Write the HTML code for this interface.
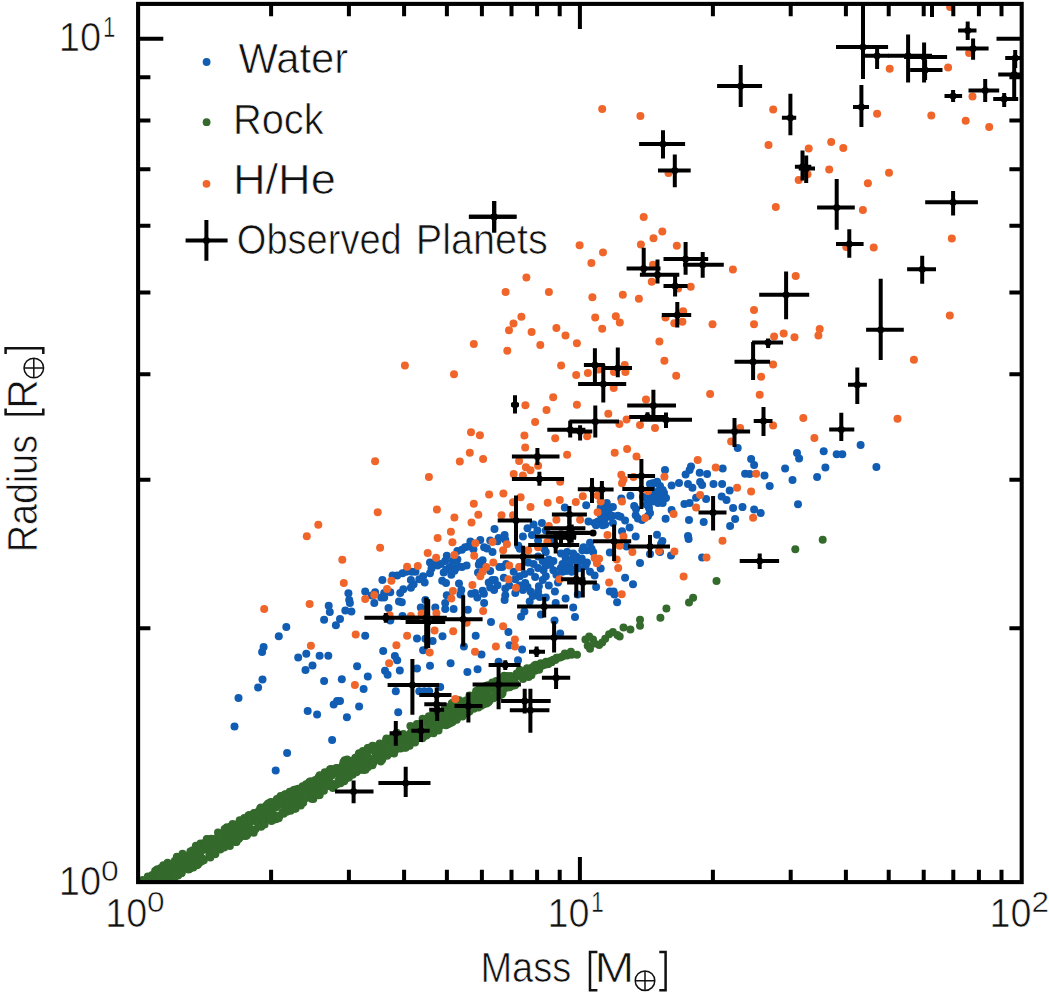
<!DOCTYPE html>
<html><head><title>Mass-Radius</title><meta charset="utf-8"><style>html,body{margin:0;padding:0;background:#fff}svg{display:block}</style></head><body><svg width="1049" height="995" viewBox="0 0 1049 995"><rect width="1049" height="995" fill="#fff"/><defs><clipPath id="cp"><rect x="138.1" y="3.9" width="883.6" height="878.2"/></clipPath></defs><g clip-path="url(#cp)"><g fill="#115db3"><circle cx="860.6" cy="445.0" r="4.0"/><circle cx="823.7" cy="451.3" r="4.0"/><circle cx="836.7" cy="454.3" r="4.0"/><circle cx="842.3" cy="454.3" r="4.0"/><circle cx="797.0" cy="453.0" r="4.0"/><circle cx="799.1" cy="458.5" r="4.0"/><circle cx="825.4" cy="467.6" r="4.0"/><circle cx="876.4" cy="467.1" r="4.0"/><circle cx="817.1" cy="477.1" r="4.0"/><circle cx="792.5" cy="479.9" r="4.0"/><circle cx="798.0" cy="504.3" r="4.0"/><circle cx="737.7" cy="448.0" r="4.0"/><circle cx="751.1" cy="459.0" r="4.0"/><circle cx="754.1" cy="465.0" r="4.0"/><circle cx="785.1" cy="468.6" r="4.0"/><circle cx="764.5" cy="475.5" r="4.0"/><circle cx="769.7" cy="486.1" r="4.0"/><circle cx="745.1" cy="473.7" r="4.0"/><circle cx="749.7" cy="474.1" r="4.0"/><circle cx="722.7" cy="468.6" r="4.0"/><circle cx="691.0" cy="466.4" r="4.0"/><circle cx="689.6" cy="470.0" r="4.0"/><circle cx="685.6" cy="474.5" r="4.0"/><circle cx="699.7" cy="472.7" r="4.0"/><circle cx="707.1" cy="474.1" r="4.0"/><circle cx="665.0" cy="470.0" r="4.0"/><circle cx="679.0" cy="483.1" r="4.0"/><circle cx="671.6" cy="485.5" r="4.0"/><circle cx="688.0" cy="484.1" r="4.0"/><circle cx="692.4" cy="487.7" r="4.0"/><circle cx="700.1" cy="482.1" r="4.0"/><circle cx="702.1" cy="485.1" r="4.0"/><circle cx="713.5" cy="484.1" r="4.0"/><circle cx="722.1" cy="484.1" r="4.0"/><circle cx="729.7" cy="490.5" r="4.0"/><circle cx="721.7" cy="496.5" r="4.0"/><circle cx="726.5" cy="500.1" r="4.0"/><circle cx="706.1" cy="499.1" r="4.0"/><circle cx="696.1" cy="497.7" r="4.0"/><circle cx="684.4" cy="504.1" r="4.0"/><circle cx="689.6" cy="503.1" r="4.0"/><circle cx="733.1" cy="508.1" r="4.0"/><circle cx="742.5" cy="507.1" r="4.0"/><circle cx="754.1" cy="509.5" r="4.0"/><circle cx="760.7" cy="513.1" r="4.0"/><circle cx="735.1" cy="519.1" r="4.0"/><circle cx="730.1" cy="526.1" r="4.0"/><circle cx="703.7" cy="522.1" r="4.0"/><circle cx="689.0" cy="520.1" r="4.0"/><circle cx="665.6" cy="518.7" r="4.0"/><circle cx="671.6" cy="510.1" r="4.0"/><circle cx="688.0" cy="536.1" r="4.0"/><circle cx="688.6" cy="539.1" r="4.0"/><circle cx="657.0" cy="534.7" r="4.0"/><circle cx="662.4" cy="541.1" r="4.0"/><circle cx="650.0" cy="484.1" r="4.0"/><circle cx="655.0" cy="483.1" r="4.0"/><circle cx="660.0" cy="486.1" r="4.0"/><circle cx="652.0" cy="490.1" r="4.0"/><circle cx="659.0" cy="491.1" r="4.0"/><circle cx="664.0" cy="493.1" r="4.0"/><circle cx="654.0" cy="497.1" r="4.0"/><circle cx="660.0" cy="498.1" r="4.0"/><circle cx="666.0" cy="498.1" r="4.0"/><circle cx="648.0" cy="502.1" r="4.0"/><circle cx="658.0" cy="503.1" r="4.0"/><circle cx="649.0" cy="508.1" r="4.0"/><circle cx="650.0" cy="513.1" r="4.0"/><circle cx="648.0" cy="516.1" r="4.0"/><circle cx="642.0" cy="520.1" r="4.0"/><circle cx="671.0" cy="555.6" r="4.0"/><circle cx="650.0" cy="554.0" r="4.0"/><circle cx="661.0" cy="544.0" r="4.0"/><circle cx="702.1" cy="557.6" r="4.0"/><circle cx="640.0" cy="563.0" r="4.0"/><circle cx="660.0" cy="552.0" r="4.0"/><circle cx="564.8" cy="507.6" r="4.0"/><circle cx="586.2" cy="505.3" r="4.0"/><circle cx="606.8" cy="503.0" r="4.0"/><circle cx="612.9" cy="506.9" r="4.0"/><circle cx="600.7" cy="507.6" r="4.0"/><circle cx="630.4" cy="495.7" r="4.0"/><circle cx="621.3" cy="498.5" r="4.0"/><circle cx="634.2" cy="506.1" r="4.0"/><circle cx="652.5" cy="483.2" r="4.0"/><circle cx="657.1" cy="481.7" r="4.0"/><circle cx="646.4" cy="497.7" r="4.0"/><circle cx="652.5" cy="501.5" r="4.0"/><circle cx="658.6" cy="495.4" r="4.0"/><circle cx="646.4" cy="504.6" r="4.0"/><circle cx="662.7" cy="490.1" r="4.0"/><circle cx="652.8" cy="494.7" r="4.0"/><circle cx="662.7" cy="503.0" r="4.0"/><circle cx="642.9" cy="496.9" r="4.0"/><circle cx="606.8" cy="506.1" r="4.0"/><circle cx="605.2" cy="513.7" r="4.0"/><circle cx="609.8" cy="516.8" r="4.0"/><circle cx="635.7" cy="515.3" r="4.0"/><circle cx="620.5" cy="516.8" r="4.0"/><circle cx="625.1" cy="520.6" r="4.0"/><circle cx="629.6" cy="527.5" r="4.0"/><circle cx="600.7" cy="521.4" r="4.0"/><circle cx="594.6" cy="522.9" r="4.0"/><circle cx="605.2" cy="524.4" r="4.0"/><circle cx="588.5" cy="521.4" r="4.0"/><circle cx="541.9" cy="522.9" r="4.0"/><circle cx="527.5" cy="528.2" r="4.0"/><circle cx="537.4" cy="530.5" r="4.0"/><circle cx="504.6" cy="535.1" r="4.0"/><circle cx="522.9" cy="536.6" r="4.0"/><circle cx="505.3" cy="539.7" r="4.0"/><circle cx="635.7" cy="536.6" r="4.0"/><circle cx="622.0" cy="531.3" r="4.0"/><circle cx="590.0" cy="542.7" r="4.0"/><circle cx="591.5" cy="548.8" r="4.0"/><circle cx="586.9" cy="550.3" r="4.0"/><circle cx="626.6" cy="546.5" r="4.0"/><circle cx="609.8" cy="552.6" r="4.0"/><circle cx="519.8" cy="548.8" r="4.0"/><circle cx="538.1" cy="556.4" r="4.0"/><circle cx="545.8" cy="551.9" r="4.0"/><circle cx="548.8" cy="559.5" r="4.0"/><circle cx="542.7" cy="561.0" r="4.0"/><circle cx="553.4" cy="561.0" r="4.0"/><circle cx="528.2" cy="562.5" r="4.0"/><circle cx="561.0" cy="553.4" r="4.0"/><circle cx="567.1" cy="551.9" r="4.0"/><circle cx="573.2" cy="553.4" r="4.0"/><circle cx="565.6" cy="558.0" r="4.0"/><circle cx="571.7" cy="559.5" r="4.0"/><circle cx="576.3" cy="556.4" r="4.0"/><circle cx="582.4" cy="550.3" r="4.0"/><circle cx="580.8" cy="561.0" r="4.0"/><circle cx="586.9" cy="562.5" r="4.0"/><circle cx="562.5" cy="564.1" r="4.0"/><circle cx="567.1" cy="567.1" r="4.0"/><circle cx="571.7" cy="571.7" r="4.0"/><circle cx="562.5" cy="571.7" r="4.0"/><circle cx="553.4" cy="570.2" r="4.0"/><circle cx="556.4" cy="574.7" r="4.0"/><circle cx="543.5" cy="570.2" r="4.0"/><circle cx="600.7" cy="568.6" r="4.0"/><circle cx="590.0" cy="571.7" r="4.0"/><circle cx="594.6" cy="575.5" r="4.0"/><circle cx="625.1" cy="577.8" r="4.0"/><circle cx="633.0" cy="584.2" r="4.0"/><circle cx="596.1" cy="586.9" r="4.0"/><circle cx="609.8" cy="591.5" r="4.0"/><circle cx="614.4" cy="594.6" r="4.0"/><circle cx="565.6" cy="598.4" r="4.0"/><circle cx="542.7" cy="580.1" r="4.0"/><circle cx="538.9" cy="586.2" r="4.0"/><circle cx="524.4" cy="574.0" r="4.0"/><circle cx="519.8" cy="576.3" r="4.0"/><circle cx="515.3" cy="579.3" r="4.0"/><circle cx="503.8" cy="577.8" r="4.0"/><circle cx="525.2" cy="583.1" r="4.0"/><circle cx="527.5" cy="586.9" r="4.0"/><circle cx="522.9" cy="590.0" r="4.0"/><circle cx="505.3" cy="588.5" r="4.0"/><circle cx="505.3" cy="595.3" r="4.0"/><circle cx="532.8" cy="596.1" r="4.0"/><circle cx="539.7" cy="596.9" r="4.0"/><circle cx="502.3" cy="567.1" r="4.0"/><circle cx="612.9" cy="522.9" r="4.0"/><circle cx="577.8" cy="594.6" r="4.0"/><circle cx="494.5" cy="529.0" r="4.0"/><circle cx="480.3" cy="540.0" r="4.0"/><circle cx="470.4" cy="541.5" r="4.0"/><circle cx="490.2" cy="540.4" r="4.0"/><circle cx="498.6" cy="538.1" r="4.0"/><circle cx="465.1" cy="547.3" r="4.0"/><circle cx="457.4" cy="551.1" r="4.0"/><circle cx="484.1" cy="547.3" r="4.0"/><circle cx="492.5" cy="551.9" r="4.0"/><circle cx="446.8" cy="555.7" r="4.0"/><circle cx="445.2" cy="561.0" r="4.0"/><circle cx="440.7" cy="564.1" r="4.0"/><circle cx="430.0" cy="562.5" r="4.0"/><circle cx="431.5" cy="568.6" r="4.0"/><circle cx="430.0" cy="573.2" r="4.0"/><circle cx="437.6" cy="565.6" r="4.0"/><circle cx="452.9" cy="561.0" r="4.0"/><circle cx="457.4" cy="559.5" r="4.0"/><circle cx="449.8" cy="567.1" r="4.0"/><circle cx="455.9" cy="567.9" r="4.0"/><circle cx="462.0" cy="567.1" r="4.0"/><circle cx="466.6" cy="565.6" r="4.0"/><circle cx="443.7" cy="572.4" r="4.0"/><circle cx="451.3" cy="574.7" r="4.0"/><circle cx="482.6" cy="560.2" r="4.0"/><circle cx="478.8" cy="564.8" r="4.0"/><circle cx="490.2" cy="570.9" r="4.0"/><circle cx="478.0" cy="572.4" r="4.0"/><circle cx="494.8" cy="580.1" r="4.0"/><circle cx="488.7" cy="582.4" r="4.0"/><circle cx="494.1" cy="590.0" r="4.0"/><circle cx="482.6" cy="590.8" r="4.0"/><circle cx="475.0" cy="593.0" r="4.0"/><circle cx="477.3" cy="597.6" r="4.0"/><circle cx="459.0" cy="583.6" r="4.0"/><circle cx="461.3" cy="590.0" r="4.0"/><circle cx="442.2" cy="580.8" r="4.0"/><circle cx="446.0" cy="583.1" r="4.0"/><circle cx="446.8" cy="595.3" r="4.0"/><circle cx="423.1" cy="576.3" r="4.0"/><circle cx="424.7" cy="582.4" r="4.0"/><circle cx="419.3" cy="579.3" r="4.0"/><circle cx="411.7" cy="571.7" r="4.0"/><circle cx="415.5" cy="571.7" r="4.0"/><circle cx="402.5" cy="573.2" r="4.0"/><circle cx="397.2" cy="575.5" r="4.0"/><circle cx="392.6" cy="575.5" r="4.0"/><circle cx="382.4" cy="580.1" r="4.0"/><circle cx="410.9" cy="580.1" r="4.0"/><circle cx="410.9" cy="587.7" r="4.0"/><circle cx="403.3" cy="589.2" r="4.0"/><circle cx="400.2" cy="593.0" r="4.0"/><circle cx="365.2" cy="591.5" r="4.0"/><circle cx="348.4" cy="593.3" r="4.0"/><circle cx="384.2" cy="593.0" r="4.0"/><circle cx="390.3" cy="592.3" r="4.0"/><circle cx="381.2" cy="597.6" r="4.0"/><circle cx="375.1" cy="592.3" r="4.0"/><circle cx="349.2" cy="599.9" r="4.0"/><circle cx="499.4" cy="567.1" r="4.0"/><circle cx="384.2" cy="597.6" r="4.0"/><circle cx="374.3" cy="603.0" r="4.0"/><circle cx="401.8" cy="602.2" r="4.0"/><circle cx="349.9" cy="603.0" r="4.0"/><circle cx="345.3" cy="610.6" r="4.0"/><circle cx="351.4" cy="611.4" r="4.0"/><circle cx="340.0" cy="619.0" r="4.0"/><circle cx="388.5" cy="608.0" r="4.0"/><circle cx="425.4" cy="599.9" r="4.0"/><circle cx="420.8" cy="607.5" r="4.0"/><circle cx="435.3" cy="607.5" r="4.0"/><circle cx="445.2" cy="603.0" r="4.0"/><circle cx="445.2" cy="609.1" r="4.0"/><circle cx="453.6" cy="609.1" r="4.0"/><circle cx="460.5" cy="594.6" r="4.0"/><circle cx="467.8" cy="609.8" r="4.0"/><circle cx="484.1" cy="603.0" r="4.0"/><circle cx="491.0" cy="622.0" r="4.0"/><circle cx="402.5" cy="615.9" r="4.0"/><circle cx="390.3" cy="620.5" r="4.0"/><circle cx="365.2" cy="635.8" r="4.0"/><circle cx="417.0" cy="638.5" r="4.0"/><circle cx="432.6" cy="641.1" r="4.0"/><circle cx="425.4" cy="638.8" r="4.0"/><circle cx="442.5" cy="636.2" r="4.0"/><circle cx="475.7" cy="635.8" r="4.0"/><circle cx="463.9" cy="646.4" r="4.0"/><circle cx="423.1" cy="650.2" r="4.0"/><circle cx="481.5" cy="654.4" r="4.0"/><circle cx="383.2" cy="651.0" r="4.0"/><circle cx="394.9" cy="655.9" r="4.0"/><circle cx="397.2" cy="660.2" r="4.0"/><circle cx="357.1" cy="666.3" r="4.0"/><circle cx="417.0" cy="668.6" r="4.0"/><circle cx="430.0" cy="665.8" r="4.0"/><circle cx="450.6" cy="663.2" r="4.0"/><circle cx="477.6" cy="669.3" r="4.0"/><circle cx="467.4" cy="671.9" r="4.0"/><circle cx="399.8" cy="670.4" r="4.0"/><circle cx="385.0" cy="670.8" r="4.0"/><circle cx="387.6" cy="674.7" r="4.0"/><circle cx="367.8" cy="676.6" r="4.0"/><circle cx="341.8" cy="679.2" r="4.0"/><circle cx="440.2" cy="686.9" r="4.0"/><circle cx="363.6" cy="689.1" r="4.0"/><circle cx="498.6" cy="661.7" r="4.0"/><circle cx="504.6" cy="599.9" r="4.0"/><circle cx="529.7" cy="601.4" r="4.0"/><circle cx="555.7" cy="603.0" r="4.0"/><circle cx="573.2" cy="607.5" r="4.0"/><circle cx="575.0" cy="617.0" r="4.0"/><circle cx="524.4" cy="611.4" r="4.0"/><circle cx="521.0" cy="616.7" r="4.0"/><circle cx="540.9" cy="614.4" r="4.0"/><circle cx="554.5" cy="620.5" r="4.0"/><circle cx="560.2" cy="633.5" r="4.0"/><circle cx="508.4" cy="631.9" r="4.0"/><circle cx="509.5" cy="645.2" r="4.0"/><circle cx="522.1" cy="649.5" r="4.0"/><circle cx="518.0" cy="660.2" r="4.0"/><circle cx="617.1" cy="602.2" r="4.0"/><circle cx="613.6" cy="591.5" r="4.0"/><circle cx="359.1" cy="706.5" r="4.0"/><circle cx="346.9" cy="717.2" r="4.0"/><circle cx="395.8" cy="691.2" r="4.0"/><circle cx="398.2" cy="712.2" r="4.0"/><circle cx="340.0" cy="701.1" r="4.0"/><circle cx="419.3" cy="691.2" r="4.0"/><circle cx="424.3" cy="691.2" r="4.0"/><circle cx="429.2" cy="691.2" r="4.0"/><circle cx="328.7" cy="605.8" r="4.0"/><circle cx="329.8" cy="611.9" r="4.0"/><circle cx="324.1" cy="619.8" r="4.0"/><circle cx="335.9" cy="625.3" r="4.0"/><circle cx="286.3" cy="627.1" r="4.0"/><circle cx="278.8" cy="636.3" r="4.0"/><circle cx="263.6" cy="646.9" r="4.0"/><circle cx="262.1" cy="652.0" r="4.0"/><circle cx="306.3" cy="653.8" r="4.0"/><circle cx="298.2" cy="657.6" r="4.0"/><circle cx="319.6" cy="655.8" r="4.0"/><circle cx="328.3" cy="655.8" r="4.0"/><circle cx="312.5" cy="665.6" r="4.0"/><circle cx="305.5" cy="670.0" r="4.0"/><circle cx="262.5" cy="679.6" r="4.0"/><circle cx="258.1" cy="687.4" r="4.0"/><circle cx="324.1" cy="681.0" r="4.0"/><circle cx="238.5" cy="698.0" r="4.0"/><circle cx="337.1" cy="701.0" r="4.0"/><circle cx="333.7" cy="704.5" r="4.0"/><circle cx="307.7" cy="711.1" r="4.0"/><circle cx="317.1" cy="714.5" r="4.0"/><circle cx="234.5" cy="726.5" r="4.0"/><circle cx="332.1" cy="740.1" r="4.0"/><circle cx="287.1" cy="753.1" r="4.0"/><circle cx="275.7" cy="770.5" r="4.0"/><circle cx="371.7" cy="595.4" r="4.0"/><circle cx="399.0" cy="601.6" r="4.0"/><circle cx="600.8" cy="514.8" r="4.0"/><circle cx="604.6" cy="518.6" r="4.0"/><circle cx="608.4" cy="511.9" r="4.0"/><circle cx="612.2" cy="515.7" r="4.0"/><circle cx="597.9" cy="521.5" r="4.0"/><circle cx="602.7" cy="525.3" r="4.0"/><circle cx="606.5" cy="509.1" r="4.0"/><circle cx="596.0" cy="525.3" r="4.0"/><circle cx="617.9" cy="515.7" r="4.0"/><circle cx="636.0" cy="509.1" r="4.0"/><circle cx="637.9" cy="518.6" r="4.0"/><circle cx="569.3" cy="564.4" r="4.0"/><circle cx="576.9" cy="562.4" r="4.0"/><circle cx="581.7" cy="558.6" r="4.0"/><circle cx="560.7" cy="568.2" r="4.0"/><circle cx="566.4" cy="571.0" r="4.0"/><circle cx="572.2" cy="569.1" r="4.0"/><circle cx="578.8" cy="568.2" r="4.0"/><circle cx="585.5" cy="566.3" r="4.0"/><circle cx="583.6" cy="547.2" r="4.0"/><circle cx="593.1" cy="552.0" r="4.0"/><circle cx="532.0" cy="535.1" r="4.0"/><circle cx="538.1" cy="540.4" r="4.0"/><circle cx="544.2" cy="548.8" r="4.0"/><circle cx="518.3" cy="545.8" r="4.0"/><circle cx="550.3" cy="539.7" r="4.0"/><circle cx="545.8" cy="530.5" r="4.0"/><circle cx="533.6" cy="524.4" r="4.0"/><circle cx="533.6" cy="564.1" r="4.0"/><circle cx="538.1" cy="567.9" r="4.0"/><circle cx="530.5" cy="571.7" r="4.0"/><circle cx="545.8" cy="565.6" r="4.0"/><circle cx="550.3" cy="564.8" r="4.0"/><circle cx="535.1" cy="577.0" r="4.0"/><circle cx="545.8" cy="576.3" r="4.0"/><circle cx="548.8" cy="585.4" r="4.0"/><circle cx="530.5" cy="591.5" r="4.0"/><circle cx="515.3" cy="593.0" r="4.0"/><circle cx="509.2" cy="585.4" r="4.0"/><circle cx="519.8" cy="567.1" r="4.0"/><circle cx="513.7" cy="571.7" r="4.0"/><circle cx="506.1" cy="564.1" r="4.0"/><circle cx="558.0" cy="582.4" r="4.0"/><circle cx="554.9" cy="591.5" r="4.0"/><circle cx="545.8" cy="597.6" r="4.0"/><circle cx="519.8" cy="585.4" r="4.0"/><circle cx="538.1" cy="591.5" r="4.0"/><circle cx="461.9" cy="549.7" r="4.0"/><circle cx="468.2" cy="546.5" r="4.0"/><circle cx="473.4" cy="549.2" r="4.0"/><circle cx="487.0" cy="548.6" r="4.0"/><circle cx="497.5" cy="541.3" r="4.0"/><circle cx="435.7" cy="562.3" r="4.0"/><circle cx="446.1" cy="569.6" r="4.0"/><circle cx="458.7" cy="566.5" r="4.0"/><circle cx="454.5" cy="570.7" r="4.0"/><circle cx="406.3" cy="571.7" r="4.0"/><circle cx="483.9" cy="567.5" r="4.0"/><circle cx="479.7" cy="562.3" r="4.0"/><circle cx="492.3" cy="580.1" r="4.0"/><circle cx="497.5" cy="585.3" r="4.0"/><circle cx="490.2" cy="587.4" r="4.0"/><circle cx="483.9" cy="593.7" r="4.0"/><circle cx="413.6" cy="584.3" r="4.0"/><circle cx="471.3" cy="593.7" r="4.0"/></g><g fill="#346a2c"><circle cx="138.5" cy="881.1" r="4.0"/><circle cx="142.6" cy="880.0" r="4.0"/><circle cx="144.5" cy="882.9" r="4.0"/><circle cx="147.2" cy="880.6" r="4.0"/><circle cx="147.8" cy="876.4" r="4.0"/><circle cx="148.5" cy="878.6" r="4.0"/><circle cx="149.3" cy="882.4" r="4.0"/><circle cx="150.7" cy="881.0" r="4.0"/><circle cx="152.2" cy="874.9" r="4.0"/><circle cx="151.8" cy="876.4" r="4.0"/><circle cx="152.2" cy="881.5" r="4.0"/><circle cx="153.0" cy="876.5" r="4.0"/><circle cx="152.8" cy="879.6" r="4.0"/><circle cx="153.6" cy="882.4" r="4.0"/><circle cx="154.5" cy="883.0" r="4.0"/><circle cx="155.1" cy="871.0" r="4.0"/><circle cx="156.0" cy="877.5" r="4.0"/><circle cx="156.1" cy="882.2" r="4.0"/><circle cx="156.5" cy="870.0" r="4.0"/><circle cx="157.0" cy="871.8" r="4.0"/><circle cx="157.5" cy="869.2" r="4.0"/><circle cx="157.6" cy="871.1" r="4.0"/><circle cx="158.1" cy="875.3" r="4.0"/><circle cx="159.4" cy="870.3" r="4.0"/><circle cx="159.5" cy="874.2" r="4.0"/><circle cx="160.0" cy="869.3" r="4.0"/><circle cx="160.9" cy="876.4" r="4.0"/><circle cx="160.9" cy="868.1" r="4.0"/><circle cx="161.5" cy="871.3" r="4.0"/><circle cx="162.4" cy="868.9" r="4.0"/><circle cx="162.9" cy="868.1" r="4.0"/><circle cx="163.3" cy="865.3" r="4.0"/><circle cx="164.5" cy="878.9" r="4.0"/><circle cx="164.3" cy="871.7" r="4.0"/><circle cx="164.6" cy="880.0" r="4.0"/><circle cx="165.3" cy="879.9" r="4.0"/><circle cx="165.5" cy="868.0" r="4.0"/><circle cx="166.9" cy="879.8" r="4.0"/><circle cx="167.2" cy="878.1" r="4.0"/><circle cx="167.0" cy="873.2" r="4.0"/><circle cx="167.6" cy="862.7" r="4.0"/><circle cx="167.6" cy="867.7" r="4.0"/><circle cx="168.3" cy="876.2" r="4.0"/><circle cx="169.4" cy="870.8" r="4.0"/><circle cx="169.7" cy="881.9" r="4.0"/><circle cx="170.2" cy="868.6" r="4.0"/><circle cx="169.8" cy="865.4" r="4.0"/><circle cx="170.2" cy="864.7" r="4.0"/><circle cx="171.0" cy="879.1" r="4.0"/><circle cx="171.6" cy="870.0" r="4.0"/><circle cx="171.9" cy="876.5" r="4.0"/><circle cx="171.7" cy="873.3" r="4.0"/><circle cx="172.9" cy="875.7" r="4.0"/><circle cx="173.2" cy="869.0" r="4.0"/><circle cx="173.0" cy="875.3" r="4.0"/><circle cx="173.5" cy="875.3" r="4.0"/><circle cx="174.6" cy="866.6" r="4.0"/><circle cx="174.4" cy="877.9" r="4.0"/><circle cx="175.1" cy="861.4" r="4.0"/><circle cx="174.9" cy="860.7" r="4.0"/><circle cx="176.1" cy="874.3" r="4.0"/><circle cx="175.7" cy="874.4" r="4.0"/><circle cx="177.0" cy="870.6" r="4.0"/><circle cx="176.8" cy="868.1" r="4.0"/><circle cx="176.9" cy="856.7" r="4.0"/><circle cx="178.2" cy="869.8" r="4.0"/><circle cx="178.1" cy="875.5" r="4.0"/><circle cx="178.4" cy="874.0" r="4.0"/><circle cx="179.2" cy="859.8" r="4.0"/><circle cx="179.1" cy="861.3" r="4.0"/><circle cx="179.4" cy="867.2" r="4.0"/><circle cx="179.9" cy="863.5" r="4.0"/><circle cx="180.1" cy="873.6" r="4.0"/><circle cx="180.8" cy="863.8" r="4.0"/><circle cx="181.4" cy="873.0" r="4.0"/><circle cx="181.6" cy="873.0" r="4.0"/><circle cx="182.1" cy="864.7" r="4.0"/><circle cx="182.5" cy="853.7" r="4.0"/><circle cx="182.8" cy="856.9" r="4.0"/><circle cx="182.8" cy="869.6" r="4.0"/><circle cx="183.4" cy="862.5" r="4.0"/><circle cx="184.3" cy="864.0" r="4.0"/><circle cx="184.3" cy="863.0" r="4.0"/><circle cx="185.0" cy="868.3" r="4.0"/><circle cx="184.9" cy="863.4" r="4.0"/><circle cx="185.4" cy="857.2" r="4.0"/><circle cx="186.4" cy="861.8" r="4.0"/><circle cx="186.6" cy="866.8" r="4.0"/><circle cx="187.3" cy="860.0" r="4.0"/><circle cx="187.4" cy="861.0" r="4.0"/><circle cx="187.7" cy="864.7" r="4.0"/><circle cx="188.1" cy="861.1" r="4.0"/><circle cx="188.5" cy="869.5" r="4.0"/><circle cx="189.1" cy="867.9" r="4.0"/><circle cx="189.7" cy="854.7" r="4.0"/><circle cx="189.8" cy="868.8" r="4.0"/><circle cx="190.4" cy="851.6" r="4.0"/><circle cx="190.1" cy="857.8" r="4.0"/><circle cx="190.5" cy="853.3" r="4.0"/><circle cx="190.9" cy="862.1" r="4.0"/><circle cx="192.0" cy="866.6" r="4.0"/><circle cx="191.8" cy="862.6" r="4.0"/><circle cx="192.7" cy="850.3" r="4.0"/><circle cx="193.3" cy="867.4" r="4.0"/><circle cx="193.0" cy="866.8" r="4.0"/><circle cx="193.6" cy="856.8" r="4.0"/><circle cx="194.6" cy="863.9" r="4.0"/><circle cx="194.2" cy="855.2" r="4.0"/><circle cx="194.9" cy="853.0" r="4.0"/><circle cx="195.0" cy="852.3" r="4.0"/><circle cx="195.9" cy="845.8" r="4.0"/><circle cx="196.2" cy="854.4" r="4.0"/><circle cx="196.0" cy="851.9" r="4.0"/><circle cx="197.0" cy="855.5" r="4.0"/><circle cx="196.9" cy="865.2" r="4.0"/><circle cx="198.0" cy="864.6" r="4.0"/><circle cx="197.7" cy="849.6" r="4.0"/><circle cx="198.0" cy="860.1" r="4.0"/><circle cx="198.7" cy="846.2" r="4.0"/><circle cx="199.2" cy="862.4" r="4.0"/><circle cx="200.0" cy="848.5" r="4.0"/><circle cx="199.7" cy="862.1" r="4.0"/><circle cx="200.6" cy="857.3" r="4.0"/><circle cx="200.5" cy="843.6" r="4.0"/><circle cx="201.5" cy="851.0" r="4.0"/><circle cx="201.3" cy="861.6" r="4.0"/><circle cx="202.2" cy="858.5" r="4.0"/><circle cx="202.1" cy="859.4" r="4.0"/><circle cx="202.5" cy="859.3" r="4.0"/><circle cx="203.3" cy="848.1" r="4.0"/><circle cx="203.8" cy="860.2" r="4.0"/><circle cx="203.9" cy="843.2" r="4.0"/><circle cx="204.5" cy="845.2" r="4.0"/><circle cx="204.5" cy="843.4" r="4.0"/><circle cx="204.9" cy="844.0" r="4.0"/><circle cx="205.5" cy="845.9" r="4.0"/><circle cx="206.4" cy="845.4" r="4.0"/><circle cx="206.5" cy="842.8" r="4.0"/><circle cx="206.7" cy="839.2" r="4.0"/><circle cx="207.1" cy="838.9" r="4.0"/><circle cx="207.9" cy="849.9" r="4.0"/><circle cx="207.8" cy="848.1" r="4.0"/><circle cx="208.9" cy="840.1" r="4.0"/><circle cx="209.2" cy="846.7" r="4.0"/><circle cx="209.3" cy="854.9" r="4.0"/><circle cx="209.6" cy="847.8" r="4.0"/><circle cx="210.3" cy="857.6" r="4.0"/><circle cx="210.3" cy="854.2" r="4.0"/><circle cx="211.1" cy="849.8" r="4.0"/><circle cx="211.2" cy="843.5" r="4.0"/><circle cx="211.3" cy="838.7" r="4.0"/><circle cx="211.7" cy="851.3" r="4.0"/><circle cx="212.3" cy="838.9" r="4.0"/><circle cx="212.5" cy="852.9" r="4.0"/><circle cx="213.7" cy="849.1" r="4.0"/><circle cx="213.5" cy="839.9" r="4.0"/><circle cx="213.9" cy="844.2" r="4.0"/><circle cx="214.2" cy="843.7" r="4.0"/><circle cx="214.7" cy="854.3" r="4.0"/><circle cx="215.8" cy="845.4" r="4.0"/><circle cx="215.4" cy="853.9" r="4.0"/><circle cx="215.9" cy="840.9" r="4.0"/><circle cx="216.0" cy="841.2" r="4.0"/><circle cx="216.9" cy="843.5" r="4.0"/><circle cx="217.0" cy="843.3" r="4.0"/><circle cx="217.2" cy="838.0" r="4.0"/><circle cx="217.7" cy="840.6" r="4.0"/><circle cx="218.0" cy="832.5" r="4.0"/><circle cx="218.7" cy="836.6" r="4.0"/><circle cx="219.4" cy="842.6" r="4.0"/><circle cx="220.0" cy="845.1" r="4.0"/><circle cx="220.3" cy="849.5" r="4.0"/><circle cx="220.4" cy="837.7" r="4.0"/><circle cx="221.4" cy="833.7" r="4.0"/><circle cx="221.5" cy="843.9" r="4.0"/><circle cx="221.2" cy="847.7" r="4.0"/><circle cx="222.5" cy="843.1" r="4.0"/><circle cx="222.7" cy="846.7" r="4.0"/><circle cx="222.5" cy="840.4" r="4.0"/><circle cx="223.3" cy="846.7" r="4.0"/><circle cx="224.0" cy="846.3" r="4.0"/><circle cx="224.2" cy="847.5" r="4.0"/><circle cx="224.7" cy="843.0" r="4.0"/><circle cx="224.6" cy="828.9" r="4.0"/><circle cx="224.9" cy="835.6" r="4.0"/><circle cx="225.3" cy="845.3" r="4.0"/><circle cx="226.2" cy="840.7" r="4.0"/><circle cx="226.6" cy="841.6" r="4.0"/><circle cx="226.9" cy="827.2" r="4.0"/><circle cx="227.6" cy="842.6" r="4.0"/><circle cx="227.7" cy="837.9" r="4.0"/><circle cx="228.3" cy="827.8" r="4.0"/><circle cx="228.7" cy="831.4" r="4.0"/><circle cx="228.5" cy="831.5" r="4.0"/><circle cx="229.5" cy="830.0" r="4.0"/><circle cx="229.9" cy="845.9" r="4.0"/><circle cx="230.1" cy="833.3" r="4.0"/><circle cx="230.5" cy="839.3" r="4.0"/><circle cx="231.2" cy="837.7" r="4.0"/><circle cx="231.4" cy="826.1" r="4.0"/><circle cx="231.3" cy="829.6" r="4.0"/><circle cx="232.3" cy="830.4" r="4.0"/><circle cx="232.6" cy="824.1" r="4.0"/><circle cx="232.5" cy="829.2" r="4.0"/><circle cx="233.5" cy="837.9" r="4.0"/><circle cx="233.9" cy="829.2" r="4.0"/><circle cx="234.1" cy="832.7" r="4.0"/><circle cx="234.5" cy="825.1" r="4.0"/><circle cx="235.3" cy="826.6" r="4.0"/><circle cx="235.8" cy="841.9" r="4.0"/><circle cx="235.2" cy="831.6" r="4.0"/><circle cx="236.4" cy="842.1" r="4.0"/><circle cx="236.4" cy="827.1" r="4.0"/><circle cx="236.6" cy="841.1" r="4.0"/><circle cx="237.0" cy="833.2" r="4.0"/><circle cx="237.3" cy="831.8" r="4.0"/><circle cx="238.6" cy="823.4" r="4.0"/><circle cx="238.8" cy="831.0" r="4.0"/><circle cx="239.3" cy="834.9" r="4.0"/><circle cx="239.0" cy="838.7" r="4.0"/><circle cx="239.7" cy="820.2" r="4.0"/><circle cx="239.6" cy="829.7" r="4.0"/><circle cx="240.5" cy="825.5" r="4.0"/><circle cx="240.5" cy="826.2" r="4.0"/><circle cx="241.1" cy="836.4" r="4.0"/><circle cx="241.2" cy="834.2" r="4.0"/><circle cx="242.4" cy="820.8" r="4.0"/><circle cx="242.9" cy="833.0" r="4.0"/><circle cx="243.3" cy="823.9" r="4.0"/><circle cx="243.2" cy="825.8" r="4.0"/><circle cx="244.2" cy="829.7" r="4.0"/><circle cx="244.0" cy="826.1" r="4.0"/><circle cx="244.3" cy="817.9" r="4.0"/><circle cx="244.5" cy="834.2" r="4.0"/><circle cx="245.1" cy="836.0" r="4.0"/><circle cx="245.4" cy="821.7" r="4.0"/><circle cx="246.1" cy="819.9" r="4.0"/><circle cx="246.4" cy="835.8" r="4.0"/><circle cx="247.3" cy="832.5" r="4.0"/><circle cx="247.4" cy="834.4" r="4.0"/><circle cx="248.1" cy="826.5" r="4.0"/><circle cx="248.3" cy="815.8" r="4.0"/><circle cx="248.7" cy="824.0" r="4.0"/><circle cx="249.2" cy="827.9" r="4.0"/><circle cx="249.1" cy="815.1" r="4.0"/><circle cx="250.1" cy="816.5" r="4.0"/><circle cx="250.1" cy="820.8" r="4.0"/><circle cx="250.3" cy="828.9" r="4.0"/><circle cx="251.4" cy="818.6" r="4.0"/><circle cx="251.5" cy="819.3" r="4.0"/><circle cx="251.8" cy="821.0" r="4.0"/><circle cx="251.8" cy="815.9" r="4.0"/><circle cx="252.2" cy="831.3" r="4.0"/><circle cx="252.9" cy="816.6" r="4.0"/><circle cx="253.7" cy="832.7" r="4.0"/><circle cx="253.6" cy="814.5" r="4.0"/><circle cx="253.8" cy="813.2" r="4.0"/><circle cx="254.3" cy="813.0" r="4.0"/><circle cx="254.6" cy="816.3" r="4.0"/><circle cx="255.4" cy="829.3" r="4.0"/><circle cx="255.9" cy="819.1" r="4.0"/><circle cx="256.0" cy="821.2" r="4.0"/><circle cx="256.4" cy="817.0" r="4.0"/><circle cx="256.5" cy="815.5" r="4.0"/><circle cx="257.8" cy="812.1" r="4.0"/><circle cx="257.7" cy="822.5" r="4.0"/><circle cx="258.5" cy="813.6" r="4.0"/><circle cx="258.3" cy="814.0" r="4.0"/><circle cx="258.8" cy="817.9" r="4.0"/><circle cx="259.8" cy="826.2" r="4.0"/><circle cx="260.1" cy="808.6" r="4.0"/><circle cx="259.6" cy="822.8" r="4.0"/><circle cx="260.9" cy="817.6" r="4.0"/><circle cx="261.0" cy="807.4" r="4.0"/><circle cx="261.2" cy="826.7" r="4.0"/><circle cx="262.0" cy="824.9" r="4.0"/><circle cx="262.6" cy="811.9" r="4.0"/><circle cx="262.1" cy="809.7" r="4.0"/><circle cx="262.9" cy="820.6" r="4.0"/><circle cx="263.7" cy="821.2" r="4.0"/><circle cx="263.8" cy="821.9" r="4.0"/><circle cx="264.1" cy="817.2" r="4.0"/><circle cx="264.0" cy="821.8" r="4.0"/><circle cx="264.6" cy="824.4" r="4.0"/><circle cx="265.4" cy="811.3" r="4.0"/><circle cx="265.3" cy="810.0" r="4.0"/><circle cx="266.2" cy="819.1" r="4.0"/><circle cx="266.1" cy="805.7" r="4.0"/><circle cx="266.9" cy="816.2" r="4.0"/><circle cx="267.2" cy="808.4" r="4.0"/><circle cx="267.8" cy="803.7" r="4.0"/><circle cx="267.9" cy="813.0" r="4.0"/><circle cx="269.0" cy="816.6" r="4.0"/><circle cx="269.3" cy="812.8" r="4.0"/><circle cx="269.0" cy="807.8" r="4.0"/><circle cx="270.2" cy="817.2" r="4.0"/><circle cx="269.9" cy="802.6" r="4.0"/><circle cx="270.5" cy="816.1" r="4.0"/><circle cx="270.8" cy="807.1" r="4.0"/><circle cx="271.5" cy="820.9" r="4.0"/><circle cx="271.4" cy="802.0" r="4.0"/><circle cx="271.9" cy="809.8" r="4.0"/><circle cx="272.7" cy="804.9" r="4.0"/><circle cx="273.2" cy="816.1" r="4.0"/><circle cx="273.3" cy="804.6" r="4.0"/><circle cx="274.2" cy="806.6" r="4.0"/><circle cx="274.4" cy="804.7" r="4.0"/><circle cx="274.2" cy="815.6" r="4.0"/><circle cx="274.7" cy="819.4" r="4.0"/><circle cx="275.3" cy="803.1" r="4.0"/><circle cx="275.4" cy="807.7" r="4.0"/><circle cx="276.3" cy="818.7" r="4.0"/><circle cx="276.1" cy="806.8" r="4.0"/><circle cx="276.6" cy="818.7" r="4.0"/><circle cx="276.9" cy="799.1" r="4.0"/><circle cx="277.3" cy="806.1" r="4.0"/><circle cx="278.5" cy="816.1" r="4.0"/><circle cx="278.7" cy="818.3" r="4.0"/><circle cx="279.3" cy="804.1" r="4.0"/><circle cx="279.0" cy="816.6" r="4.0"/><circle cx="279.9" cy="797.4" r="4.0"/><circle cx="280.3" cy="804.4" r="4.0"/><circle cx="280.4" cy="803.2" r="4.0"/><circle cx="280.6" cy="796.1" r="4.0"/><circle cx="281.1" cy="803.2" r="4.0"/><circle cx="282.2" cy="798.1" r="4.0"/><circle cx="282.6" cy="799.7" r="4.0"/><circle cx="282.4" cy="812.3" r="4.0"/><circle cx="283.2" cy="803.9" r="4.0"/><circle cx="282.8" cy="804.6" r="4.0"/><circle cx="283.6" cy="813.7" r="4.0"/><circle cx="283.8" cy="801.8" r="4.0"/><circle cx="284.9" cy="794.6" r="4.0"/><circle cx="284.8" cy="810.8" r="4.0"/><circle cx="285.6" cy="794.4" r="4.0"/><circle cx="285.2" cy="794.6" r="4.0"/><circle cx="286.5" cy="798.4" r="4.0"/><circle cx="286.7" cy="811.7" r="4.0"/><circle cx="286.7" cy="798.3" r="4.0"/><circle cx="287.8" cy="805.3" r="4.0"/><circle cx="287.5" cy="807.2" r="4.0"/><circle cx="287.9" cy="797.7" r="4.0"/><circle cx="288.0" cy="807.6" r="4.0"/><circle cx="289.3" cy="804.8" r="4.0"/><circle cx="289.7" cy="791.8" r="4.0"/><circle cx="289.4" cy="801.0" r="4.0"/><circle cx="290.6" cy="810.8" r="4.0"/><circle cx="290.4" cy="795.8" r="4.0"/><circle cx="290.8" cy="800.7" r="4.0"/><circle cx="291.7" cy="794.0" r="4.0"/><circle cx="292.0" cy="805.4" r="4.0"/><circle cx="292.4" cy="805.9" r="4.0"/><circle cx="292.6" cy="796.3" r="4.0"/><circle cx="292.7" cy="796.8" r="4.0"/><circle cx="293.6" cy="790.6" r="4.0"/><circle cx="293.4" cy="804.6" r="4.0"/><circle cx="293.8" cy="789.9" r="4.0"/><circle cx="294.0" cy="799.9" r="4.0"/><circle cx="294.7" cy="808.7" r="4.0"/><circle cx="295.7" cy="808.6" r="4.0"/><circle cx="295.5" cy="789.4" r="4.0"/><circle cx="295.7" cy="797.9" r="4.0"/><circle cx="296.7" cy="796.6" r="4.0"/><circle cx="296.6" cy="795.7" r="4.0"/><circle cx="297.4" cy="800.9" r="4.0"/><circle cx="297.9" cy="804.3" r="4.0"/><circle cx="298.3" cy="788.8" r="4.0"/><circle cx="298.8" cy="792.2" r="4.0"/><circle cx="299.0" cy="793.7" r="4.0"/><circle cx="299.5" cy="789.8" r="4.0"/><circle cx="299.4" cy="790.5" r="4.0"/><circle cx="299.8" cy="803.7" r="4.0"/><circle cx="300.6" cy="791.8" r="4.0"/><circle cx="300.8" cy="805.5" r="4.0"/><circle cx="301.3" cy="789.3" r="4.0"/><circle cx="302.0" cy="798.0" r="4.0"/><circle cx="302.6" cy="786.2" r="4.0"/><circle cx="302.5" cy="801.0" r="4.0"/><circle cx="303.2" cy="802.8" r="4.0"/><circle cx="302.8" cy="789.5" r="4.0"/><circle cx="303.3" cy="787.1" r="4.0"/><circle cx="304.6" cy="795.2" r="4.0"/><circle cx="304.9" cy="790.5" r="4.0"/><circle cx="305.3" cy="791.9" r="4.0"/><circle cx="305.1" cy="798.6" r="4.0"/><circle cx="306.1" cy="784.2" r="4.0"/><circle cx="306.2" cy="794.8" r="4.0"/><circle cx="306.2" cy="789.3" r="4.0"/><circle cx="306.5" cy="785.6" r="4.0"/><circle cx="307.1" cy="793.7" r="4.0"/><circle cx="307.9" cy="785.2" r="4.0"/><circle cx="307.6" cy="787.5" r="4.0"/><circle cx="308.7" cy="784.3" r="4.0"/><circle cx="308.7" cy="784.5" r="4.0"/><circle cx="309.6" cy="791.5" r="4.0"/><circle cx="309.3" cy="781.9" r="4.0"/><circle cx="310.0" cy="791.1" r="4.0"/><circle cx="310.6" cy="781.2" r="4.0"/><circle cx="310.6" cy="793.7" r="4.0"/><circle cx="311.2" cy="784.8" r="4.0"/><circle cx="311.5" cy="798.7" r="4.0"/><circle cx="311.9" cy="790.3" r="4.0"/><circle cx="312.4" cy="786.9" r="4.0"/><circle cx="313.3" cy="798.9" r="4.0"/><circle cx="313.2" cy="781.9" r="4.0"/><circle cx="313.9" cy="781.8" r="4.0"/><circle cx="313.6" cy="796.2" r="4.0"/><circle cx="314.4" cy="794.3" r="4.0"/><circle cx="314.8" cy="795.4" r="4.0"/><circle cx="315.3" cy="780.0" r="4.0"/><circle cx="315.2" cy="788.0" r="4.0"/><circle cx="316.2" cy="795.3" r="4.0"/><circle cx="316.1" cy="789.0" r="4.0"/><circle cx="316.8" cy="786.3" r="4.0"/><circle cx="316.9" cy="781.5" r="4.0"/><circle cx="317.7" cy="794.7" r="4.0"/><circle cx="317.7" cy="785.4" r="4.0"/><circle cx="318.8" cy="795.2" r="4.0"/><circle cx="318.6" cy="777.3" r="4.0"/><circle cx="319.7" cy="794.9" r="4.0"/><circle cx="319.7" cy="775.3" r="4.0"/><circle cx="320.5" cy="782.1" r="4.0"/><circle cx="320.9" cy="786.8" r="4.0"/><circle cx="321.2" cy="776.9" r="4.0"/><circle cx="321.6" cy="778.0" r="4.0"/><circle cx="321.6" cy="790.8" r="4.0"/><circle cx="322.4" cy="776.7" r="4.0"/><circle cx="322.2" cy="781.0" r="4.0"/><circle cx="322.9" cy="780.5" r="4.0"/><circle cx="322.9" cy="777.4" r="4.0"/><circle cx="323.9" cy="790.8" r="4.0"/><circle cx="323.6" cy="783.5" r="4.0"/><circle cx="324.8" cy="772.3" r="4.0"/><circle cx="325.2" cy="773.8" r="4.0"/><circle cx="325.4" cy="782.6" r="4.0"/><circle cx="325.8" cy="777.3" r="4.0"/><circle cx="326.0" cy="782.9" r="4.0"/><circle cx="326.4" cy="784.2" r="4.0"/><circle cx="326.8" cy="779.4" r="4.0"/><circle cx="326.8" cy="783.0" r="4.0"/><circle cx="327.7" cy="774.7" r="4.0"/><circle cx="328.4" cy="785.9" r="4.0"/><circle cx="328.5" cy="773.1" r="4.0"/><circle cx="328.9" cy="771.3" r="4.0"/><circle cx="328.9" cy="777.9" r="4.0"/><circle cx="329.3" cy="777.9" r="4.0"/><circle cx="330.1" cy="769.3" r="4.0"/><circle cx="330.6" cy="769.9" r="4.0"/><circle cx="331.1" cy="784.3" r="4.0"/><circle cx="331.3" cy="768.9" r="4.0"/><circle cx="331.7" cy="775.5" r="4.0"/><circle cx="332.6" cy="770.2" r="4.0"/><circle cx="332.9" cy="788.0" r="4.0"/><circle cx="333.1" cy="784.0" r="4.0"/><circle cx="333.0" cy="787.3" r="4.0"/><circle cx="333.7" cy="786.5" r="4.0"/><circle cx="334.5" cy="769.7" r="4.0"/><circle cx="334.8" cy="785.5" r="4.0"/><circle cx="334.5" cy="773.1" r="4.0"/><circle cx="335.6" cy="768.9" r="4.0"/><circle cx="336.1" cy="771.1" r="4.0"/><circle cx="336.4" cy="768.1" r="4.0"/><circle cx="336.5" cy="784.2" r="4.0"/><circle cx="336.6" cy="770.2" r="4.0"/><circle cx="337.3" cy="771.1" r="4.0"/><circle cx="337.2" cy="768.0" r="4.0"/><circle cx="337.8" cy="783.7" r="4.0"/><circle cx="338.7" cy="782.6" r="4.0"/><circle cx="338.6" cy="780.0" r="4.0"/><circle cx="338.9" cy="774.5" r="4.0"/><circle cx="339.8" cy="770.7" r="4.0"/><circle cx="340.5" cy="774.5" r="4.0"/><circle cx="340.6" cy="781.2" r="4.0"/><circle cx="340.5" cy="783.3" r="4.0"/><circle cx="341.4" cy="770.5" r="4.0"/><circle cx="342.0" cy="767.6" r="4.0"/><circle cx="342.6" cy="773.9" r="4.0"/><circle cx="342.4" cy="777.6" r="4.0"/><circle cx="342.8" cy="765.1" r="4.0"/><circle cx="343.5" cy="762.1" r="4.0"/><circle cx="344.0" cy="766.2" r="4.0"/><circle cx="344.2" cy="781.3" r="4.0"/><circle cx="344.6" cy="774.4" r="4.0"/><circle cx="344.7" cy="760.3" r="4.0"/><circle cx="344.8" cy="763.2" r="4.0"/><circle cx="345.8" cy="768.9" r="4.0"/><circle cx="346.1" cy="778.4" r="4.0"/><circle cx="346.1" cy="764.1" r="4.0"/><circle cx="347.1" cy="759.6" r="4.0"/><circle cx="346.8" cy="766.4" r="4.0"/><circle cx="347.3" cy="766.2" r="4.0"/><circle cx="347.8" cy="770.7" r="4.0"/><circle cx="348.6" cy="762.6" r="4.0"/><circle cx="349.0" cy="768.0" r="4.0"/><circle cx="348.9" cy="777.5" r="4.0"/><circle cx="349.4" cy="760.7" r="4.0"/><circle cx="349.7" cy="770.8" r="4.0"/><circle cx="350.9" cy="773.6" r="4.0"/><circle cx="350.8" cy="762.5" r="4.0"/><circle cx="350.8" cy="770.3" r="4.0"/><circle cx="351.8" cy="763.9" r="4.0"/><circle cx="352.2" cy="765.6" r="4.0"/><circle cx="352.9" cy="771.5" r="4.0"/><circle cx="352.6" cy="774.8" r="4.0"/><circle cx="352.8" cy="766.8" r="4.0"/><circle cx="353.6" cy="760.4" r="4.0"/><circle cx="353.7" cy="771.6" r="4.0"/><circle cx="354.0" cy="766.6" r="4.0"/><circle cx="355.3" cy="757.8" r="4.0"/><circle cx="355.0" cy="767.3" r="4.0"/><circle cx="355.7" cy="767.8" r="4.0"/><circle cx="356.4" cy="757.8" r="4.0"/><circle cx="356.3" cy="760.2" r="4.0"/><circle cx="356.4" cy="772.3" r="4.0"/><circle cx="357.6" cy="768.5" r="4.0"/><circle cx="357.2" cy="771.0" r="4.0"/><circle cx="358.3" cy="762.8" r="4.0"/><circle cx="358.7" cy="762.3" r="4.0"/><circle cx="358.6" cy="754.8" r="4.0"/><circle cx="359.0" cy="753.2" r="4.0"/><circle cx="359.5" cy="767.9" r="4.0"/><circle cx="360.3" cy="769.7" r="4.0"/><circle cx="360.7" cy="757.3" r="4.0"/><circle cx="361.0" cy="760.6" r="4.0"/><circle cx="361.6" cy="762.3" r="4.0"/><circle cx="361.5" cy="764.5" r="4.0"/><circle cx="362.6" cy="755.4" r="4.0"/><circle cx="362.9" cy="750.9" r="4.0"/><circle cx="362.7" cy="755.4" r="4.0"/><circle cx="363.5" cy="770.0" r="4.0"/><circle cx="363.9" cy="756.8" r="4.0"/><circle cx="364.5" cy="756.6" r="4.0"/><circle cx="364.2" cy="768.6" r="4.0"/><circle cx="365.0" cy="763.9" r="4.0"/><circle cx="365.5" cy="769.7" r="4.0"/><circle cx="365.7" cy="766.5" r="4.0"/><circle cx="366.3" cy="766.7" r="4.0"/><circle cx="366.4" cy="763.7" r="4.0"/><circle cx="367.0" cy="754.7" r="4.0"/><circle cx="367.0" cy="761.1" r="4.0"/><circle cx="367.3" cy="766.9" r="4.0"/><circle cx="367.7" cy="748.1" r="4.0"/><circle cx="368.1" cy="766.9" r="4.0"/><circle cx="368.7" cy="750.1" r="4.0"/><circle cx="368.8" cy="747.8" r="4.0"/><circle cx="369.9" cy="760.0" r="4.0"/><circle cx="370.3" cy="762.0" r="4.0"/><circle cx="370.1" cy="758.7" r="4.0"/><circle cx="370.8" cy="763.2" r="4.0"/><circle cx="371.6" cy="764.6" r="4.0"/><circle cx="371.3" cy="763.8" r="4.0"/><circle cx="372.5" cy="765.2" r="4.0"/><circle cx="372.1" cy="749.5" r="4.0"/><circle cx="372.5" cy="745.7" r="4.0"/><circle cx="373.6" cy="761.8" r="4.0"/><circle cx="373.8" cy="761.9" r="4.0"/><circle cx="374.2" cy="750.4" r="4.0"/><circle cx="374.1" cy="746.2" r="4.0"/><circle cx="375.2" cy="748.2" r="4.0"/><circle cx="375.1" cy="752.6" r="4.0"/><circle cx="375.2" cy="748.8" r="4.0"/><circle cx="375.9" cy="758.3" r="4.0"/><circle cx="376.4" cy="749.8" r="4.0"/><circle cx="377.4" cy="753.4" r="4.0"/><circle cx="377.7" cy="755.6" r="4.0"/><circle cx="377.2" cy="751.0" r="4.0"/><circle cx="378.0" cy="758.4" r="4.0"/><circle cx="378.3" cy="756.7" r="4.0"/><circle cx="378.9" cy="746.3" r="4.0"/><circle cx="379.7" cy="743.4" r="4.0"/><circle cx="380.0" cy="744.9" r="4.0"/><circle cx="379.6" cy="745.3" r="4.0"/><circle cx="380.8" cy="761.4" r="4.0"/><circle cx="380.4" cy="751.0" r="4.0"/><circle cx="381.3" cy="757.2" r="4.0"/><circle cx="381.4" cy="750.6" r="4.0"/><circle cx="381.9" cy="757.5" r="4.0"/><circle cx="382.3" cy="759.6" r="4.0"/><circle cx="382.7" cy="744.1" r="4.0"/><circle cx="383.5" cy="749.8" r="4.0"/><circle cx="383.3" cy="752.5" r="4.0"/><circle cx="383.7" cy="755.5" r="4.0"/><circle cx="384.7" cy="755.2" r="4.0"/><circle cx="385.0" cy="746.0" r="4.0"/><circle cx="385.2" cy="746.6" r="4.0"/><circle cx="386.1" cy="739.9" r="4.0"/><circle cx="386.5" cy="738.4" r="4.0"/><circle cx="386.2" cy="743.2" r="4.0"/><circle cx="387.3" cy="747.9" r="4.0"/><circle cx="387.2" cy="755.8" r="4.0"/><circle cx="387.4" cy="746.7" r="4.0"/><circle cx="388.1" cy="752.6" r="4.0"/><circle cx="388.8" cy="750.1" r="4.0"/><circle cx="388.7" cy="743.2" r="4.0"/><circle cx="389.0" cy="753.8" r="4.0"/><circle cx="389.9" cy="751.5" r="4.0"/><circle cx="389.8" cy="744.9" r="4.0"/><circle cx="390.8" cy="747.7" r="4.0"/><circle cx="390.5" cy="745.0" r="4.0"/><circle cx="391.7" cy="740.1" r="4.0"/><circle cx="391.4" cy="741.2" r="4.0"/><circle cx="392.3" cy="752.3" r="4.0"/><circle cx="392.2" cy="737.7" r="4.0"/><circle cx="392.6" cy="741.1" r="4.0"/><circle cx="393.3" cy="737.4" r="4.0"/><circle cx="393.5" cy="737.8" r="4.0"/><circle cx="394.6" cy="748.9" r="4.0"/><circle cx="394.1" cy="753.6" r="4.0"/><circle cx="394.5" cy="741.2" r="4.0"/><circle cx="395.8" cy="749.6" r="4.0"/><circle cx="395.9" cy="741.8" r="4.0"/><circle cx="395.8" cy="745.9" r="4.0"/><circle cx="396.1" cy="736.6" r="4.0"/><circle cx="396.8" cy="732.8" r="4.0"/><circle cx="397.2" cy="748.5" r="4.0"/><circle cx="397.9" cy="742.1" r="4.0"/><circle cx="398.2" cy="741.2" r="4.0"/><circle cx="398.1" cy="743.9" r="4.0"/><circle cx="398.8" cy="746.6" r="4.0"/><circle cx="399.7" cy="739.8" r="4.0"/><circle cx="399.8" cy="746.3" r="4.0"/><circle cx="400.0" cy="735.2" r="4.0"/><circle cx="400.7" cy="748.6" r="4.0"/><circle cx="401.2" cy="744.6" r="4.0"/><circle cx="401.7" cy="744.0" r="4.0"/><circle cx="401.8" cy="739.0" r="4.0"/><circle cx="401.9" cy="742.5" r="4.0"/><circle cx="402.1" cy="737.9" r="4.0"/><circle cx="403.2" cy="743.8" r="4.0"/><circle cx="403.4" cy="733.9" r="4.0"/><circle cx="403.6" cy="738.0" r="4.0"/><circle cx="404.2" cy="736.8" r="4.0"/><circle cx="404.7" cy="747.5" r="4.0"/><circle cx="404.6" cy="741.5" r="4.0"/><circle cx="405.6" cy="735.7" r="4.0"/><circle cx="405.7" cy="747.8" r="4.0"/><circle cx="405.6" cy="738.6" r="4.0"/><circle cx="406.2" cy="743.4" r="4.0"/><circle cx="407.3" cy="737.6" r="4.0"/><circle cx="406.9" cy="738.6" r="4.0"/><circle cx="407.7" cy="741.4" r="4.0"/><circle cx="408.1" cy="739.5" r="4.0"/><circle cx="408.8" cy="736.8" r="4.0"/><circle cx="408.8" cy="745.6" r="4.0"/><circle cx="409.0" cy="739.8" r="4.0"/><circle cx="409.6" cy="741.3" r="4.0"/><circle cx="409.7" cy="745.7" r="4.0"/><circle cx="410.4" cy="726.0" r="4.0"/><circle cx="410.7" cy="733.0" r="4.0"/><circle cx="410.8" cy="733.2" r="4.0"/><circle cx="411.6" cy="738.9" r="4.0"/><circle cx="412.0" cy="729.5" r="4.0"/><circle cx="412.2" cy="739.3" r="4.0"/><circle cx="413.3" cy="734.6" r="4.0"/><circle cx="413.0" cy="740.2" r="4.0"/><circle cx="413.6" cy="727.6" r="4.0"/><circle cx="413.7" cy="739.2" r="4.0"/><circle cx="414.8" cy="736.0" r="4.0"/><circle cx="414.9" cy="734.3" r="4.0"/><circle cx="415.0" cy="742.5" r="4.0"/><circle cx="415.6" cy="735.5" r="4.0"/><circle cx="416.4" cy="739.0" r="4.0"/><circle cx="416.5" cy="727.8" r="4.0"/><circle cx="416.9" cy="724.1" r="4.0"/><circle cx="417.6" cy="728.7" r="4.0"/><circle cx="418.1" cy="726.6" r="4.0"/><circle cx="418.0" cy="726.1" r="4.0"/><circle cx="418.4" cy="724.5" r="4.0"/><circle cx="418.4" cy="735.5" r="4.0"/><circle cx="419.1" cy="725.3" r="4.0"/><circle cx="419.5" cy="730.0" r="4.0"/><circle cx="420.0" cy="733.1" r="4.0"/><circle cx="420.7" cy="727.1" r="4.0"/><circle cx="421.3" cy="737.3" r="4.0"/><circle cx="420.9" cy="736.5" r="4.0"/><circle cx="422.1" cy="735.4" r="4.0"/><circle cx="421.7" cy="736.1" r="4.0"/><circle cx="422.6" cy="718.8" r="4.0"/><circle cx="422.4" cy="738.3" r="4.0"/><circle cx="423.5" cy="723.3" r="4.0"/><circle cx="423.3" cy="720.8" r="4.0"/><circle cx="423.8" cy="733.9" r="4.0"/><circle cx="424.3" cy="720.6" r="4.0"/><circle cx="425.3" cy="733.8" r="4.0"/><circle cx="425.0" cy="735.7" r="4.0"/><circle cx="425.8" cy="733.2" r="4.0"/><circle cx="426.3" cy="735.4" r="4.0"/><circle cx="426.8" cy="734.0" r="4.0"/><circle cx="426.6" cy="730.7" r="4.0"/><circle cx="427.3" cy="731.5" r="4.0"/><circle cx="427.6" cy="734.3" r="4.0"/><circle cx="428.2" cy="721.1" r="4.0"/><circle cx="428.2" cy="718.3" r="4.0"/><circle cx="428.9" cy="716.3" r="4.0"/><circle cx="429.3" cy="717.9" r="4.0"/><circle cx="429.7" cy="725.2" r="4.0"/><circle cx="430.1" cy="732.6" r="4.0"/><circle cx="430.0" cy="731.9" r="4.0"/><circle cx="430.9" cy="725.9" r="4.0"/><circle cx="431.5" cy="731.5" r="4.0"/><circle cx="431.6" cy="722.4" r="4.0"/><circle cx="432.6" cy="715.0" r="4.0"/><circle cx="432.6" cy="726.6" r="4.0"/><circle cx="432.4" cy="725.8" r="4.0"/><circle cx="433.5" cy="732.4" r="4.0"/><circle cx="433.5" cy="733.2" r="4.0"/><circle cx="434.1" cy="722.6" r="4.0"/><circle cx="434.9" cy="712.9" r="4.0"/><circle cx="435.1" cy="725.1" r="4.0"/><circle cx="435.1" cy="729.9" r="4.0"/><circle cx="435.6" cy="721.5" r="4.0"/><circle cx="436.1" cy="727.5" r="4.0"/><circle cx="436.2" cy="720.3" r="4.0"/><circle cx="436.8" cy="722.6" r="4.0"/><circle cx="437.6" cy="716.9" r="4.0"/><circle cx="438.0" cy="719.0" r="4.0"/><circle cx="438.1" cy="716.0" r="4.0"/><circle cx="438.5" cy="730.6" r="4.0"/><circle cx="439.1" cy="726.5" r="4.0"/><circle cx="439.1" cy="716.3" r="4.0"/><circle cx="439.5" cy="721.8" r="4.0"/><circle cx="440.2" cy="725.7" r="4.0"/><circle cx="440.0" cy="724.2" r="4.0"/><circle cx="441.3" cy="720.3" r="4.0"/><circle cx="440.8" cy="714.9" r="4.0"/><circle cx="441.2" cy="712.4" r="4.0"/><circle cx="442.5" cy="720.9" r="4.0"/><circle cx="442.7" cy="724.4" r="4.0"/><circle cx="443.3" cy="720.5" r="4.0"/><circle cx="443.4" cy="720.6" r="4.0"/><circle cx="443.9" cy="719.7" r="4.0"/><circle cx="444.3" cy="711.6" r="4.0"/><circle cx="444.7" cy="716.4" r="4.0"/><circle cx="445.2" cy="708.8" r="4.0"/><circle cx="445.0" cy="707.3" r="4.0"/><circle cx="446.0" cy="725.2" r="4.0"/><circle cx="446.3" cy="713.7" r="4.0"/><circle cx="446.8" cy="722.1" r="4.0"/><circle cx="447.0" cy="711.0" r="4.0"/><circle cx="447.1" cy="714.1" r="4.0"/><circle cx="447.5" cy="714.1" r="4.0"/><circle cx="448.2" cy="724.2" r="4.0"/><circle cx="448.1" cy="716.5" r="4.0"/><circle cx="448.4" cy="707.0" r="4.0"/><circle cx="449.6" cy="716.2" r="4.0"/><circle cx="450.1" cy="713.3" r="4.0"/><circle cx="449.6" cy="711.9" r="4.0"/><circle cx="450.6" cy="722.9" r="4.0"/><circle cx="451.4" cy="713.2" r="4.0"/><circle cx="451.2" cy="705.4" r="4.0"/><circle cx="451.8" cy="707.4" r="4.0"/><circle cx="451.8" cy="703.2" r="4.0"/><circle cx="452.0" cy="716.6" r="4.0"/><circle cx="452.5" cy="722.1" r="4.0"/><circle cx="452.9" cy="719.9" r="4.0"/><circle cx="453.3" cy="702.4" r="4.0"/><circle cx="454.3" cy="706.8" r="4.0"/><circle cx="454.7" cy="705.4" r="4.0"/><circle cx="454.5" cy="717.0" r="4.0"/><circle cx="455.5" cy="718.4" r="4.0"/><circle cx="455.9" cy="702.7" r="4.0"/><circle cx="456.2" cy="715.0" r="4.0"/><circle cx="456.5" cy="719.3" r="4.0"/><circle cx="456.7" cy="719.7" r="4.0"/><circle cx="457.5" cy="700.4" r="4.0"/><circle cx="457.2" cy="713.0" r="4.0"/><circle cx="458.4" cy="701.4" r="4.0"/><circle cx="458.3" cy="714.1" r="4.0"/><circle cx="458.6" cy="716.5" r="4.0"/><circle cx="459.3" cy="700.3" r="4.0"/><circle cx="459.6" cy="710.3" r="4.0"/><circle cx="460.0" cy="712.1" r="4.0"/><circle cx="460.1" cy="714.3" r="4.0"/><circle cx="460.8" cy="711.1" r="4.0"/><circle cx="461.4" cy="706.4" r="4.0"/><circle cx="461.6" cy="713.4" r="4.0"/><circle cx="462.5" cy="713.1" r="4.0"/><circle cx="462.6" cy="703.2" r="4.0"/><circle cx="462.5" cy="716.4" r="4.0"/><circle cx="463.5" cy="713.3" r="4.0"/><circle cx="463.5" cy="708.7" r="4.0"/><circle cx="464.6" cy="712.9" r="4.0"/><circle cx="464.6" cy="702.5" r="4.0"/><circle cx="464.8" cy="713.6" r="4.0"/><circle cx="465.2" cy="709.4" r="4.0"/><circle cx="465.8" cy="713.3" r="4.0"/><circle cx="466.4" cy="701.1" r="4.0"/><circle cx="466.0" cy="700.5" r="4.0"/><circle cx="466.8" cy="706.6" r="4.0"/><circle cx="467.6" cy="712.2" r="4.0"/><circle cx="467.2" cy="710.9" r="4.0"/><circle cx="468.4" cy="711.3" r="4.0"/><circle cx="468.6" cy="699.6" r="4.0"/><circle cx="469.3" cy="709.7" r="4.0"/><circle cx="469.5" cy="711.5" r="4.0"/><circle cx="469.5" cy="695.4" r="4.0"/><circle cx="470.2" cy="708.8" r="4.0"/><circle cx="470.2" cy="707.7" r="4.0"/><circle cx="471.3" cy="697.6" r="4.0"/><circle cx="471.4" cy="705.9" r="4.0"/><circle cx="471.7" cy="696.6" r="4.0"/><circle cx="471.9" cy="706.8" r="4.0"/><circle cx="472.8" cy="701.0" r="4.0"/><circle cx="472.5" cy="707.4" r="4.0"/><circle cx="473.6" cy="696.3" r="4.0"/><circle cx="473.8" cy="708.7" r="4.0"/><circle cx="474.5" cy="701.3" r="4.0"/><circle cx="474.5" cy="702.4" r="4.0"/><circle cx="474.6" cy="694.7" r="4.0"/><circle cx="475.0" cy="704.1" r="4.0"/><circle cx="475.6" cy="701.3" r="4.0"/><circle cx="476.0" cy="700.2" r="4.0"/><circle cx="476.1" cy="691.0" r="4.0"/><circle cx="477.4" cy="697.0" r="4.0"/><circle cx="476.9" cy="701.7" r="4.0"/><circle cx="478.0" cy="692.5" r="4.0"/><circle cx="478.2" cy="695.8" r="4.0"/><circle cx="478.5" cy="689.5" r="4.0"/><circle cx="478.4" cy="707.5" r="4.0"/><circle cx="479.7" cy="697.8" r="4.0"/><circle cx="479.8" cy="693.4" r="4.0"/><circle cx="480.4" cy="696.3" r="4.0"/><circle cx="480.9" cy="702.4" r="4.0"/><circle cx="481.2" cy="705.8" r="4.0"/><circle cx="481.1" cy="688.4" r="4.0"/><circle cx="481.4" cy="690.9" r="4.0"/><circle cx="481.7" cy="688.2" r="4.0"/><circle cx="482.6" cy="703.2" r="4.0"/><circle cx="482.9" cy="704.4" r="4.0"/><circle cx="483.7" cy="687.9" r="4.0"/><circle cx="483.8" cy="693.8" r="4.0"/><circle cx="483.7" cy="703.9" r="4.0"/><circle cx="484.3" cy="696.4" r="4.0"/><circle cx="485.0" cy="703.4" r="4.0"/><circle cx="485.5" cy="692.9" r="4.0"/><circle cx="485.6" cy="688.4" r="4.0"/><circle cx="486.6" cy="703.4" r="4.0"/><circle cx="486.2" cy="685.7" r="4.0"/><circle cx="486.7" cy="691.2" r="4.0"/><circle cx="487.7" cy="701.1" r="4.0"/><circle cx="488.0" cy="685.3" r="4.0"/><circle cx="488.4" cy="697.1" r="4.0"/><circle cx="488.6" cy="701.9" r="4.0"/><circle cx="488.5" cy="686.4" r="4.0"/><circle cx="489.6" cy="700.6" r="4.0"/><circle cx="489.9" cy="688.8" r="4.0"/><circle cx="490.2" cy="696.9" r="4.0"/><circle cx="490.1" cy="688.8" r="4.0"/><circle cx="490.7" cy="685.0" r="4.0"/><circle cx="491.3" cy="685.6" r="4.0"/><circle cx="491.4" cy="684.9" r="4.0"/><circle cx="492.3" cy="682.4" r="4.0"/><circle cx="492.7" cy="685.4" r="4.0"/><circle cx="492.4" cy="698.3" r="4.0"/><circle cx="493.0" cy="698.2" r="4.0"/><circle cx="494.1" cy="697.2" r="4.0"/><circle cx="493.7" cy="689.1" r="4.0"/><circle cx="494.1" cy="697.4" r="4.0"/><circle cx="495.2" cy="691.9" r="4.0"/><circle cx="495.3" cy="686.5" r="4.0"/><circle cx="496.0" cy="688.8" r="4.0"/><circle cx="496.2" cy="682.6" r="4.0"/><circle cx="496.2" cy="680.9" r="4.0"/><circle cx="497.1" cy="689.4" r="4.0"/><circle cx="496.9" cy="694.8" r="4.0"/><circle cx="497.5" cy="686.5" r="4.0"/><circle cx="497.8" cy="683.8" r="4.0"/><circle cx="498.8" cy="684.7" r="4.0"/><circle cx="498.6" cy="687.3" r="4.0"/><circle cx="499.1" cy="694.3" r="4.0"/><circle cx="499.3" cy="695.4" r="4.0"/><circle cx="499.7" cy="693.7" r="4.0"/><circle cx="500.7" cy="681.5" r="4.0"/><circle cx="500.9" cy="682.6" r="4.0"/><circle cx="501.1" cy="680.9" r="4.0"/><circle cx="501.6" cy="694.4" r="4.0"/><circle cx="502.6" cy="693.1" r="4.0"/><circle cx="502.1" cy="681.8" r="4.0"/><circle cx="503.3" cy="677.6" r="4.0"/><circle cx="503.5" cy="681.5" r="4.0"/><circle cx="504.2" cy="676.5" r="4.0"/><circle cx="504.4" cy="681.9" r="4.0"/><circle cx="504.1" cy="675.8" r="4.0"/><circle cx="505.2" cy="684.6" r="4.0"/><circle cx="505.0" cy="682.9" r="4.0"/><circle cx="506.1" cy="678.9" r="4.0"/><circle cx="506.2" cy="677.3" r="4.0"/><circle cx="506.2" cy="687.9" r="4.0"/><circle cx="507.1" cy="677.9" r="4.0"/><circle cx="506.9" cy="675.9" r="4.0"/><circle cx="507.8" cy="682.6" r="4.0"/><circle cx="508.0" cy="678.4" r="4.0"/><circle cx="508.6" cy="684.2" r="4.0"/><circle cx="509.7" cy="687.2" r="4.0"/><circle cx="510.6" cy="676.1" r="4.0"/><circle cx="511.1" cy="684.9" r="4.0"/><circle cx="512.0" cy="684.2" r="4.0"/><circle cx="512.5" cy="685.4" r="4.0"/><circle cx="513.3" cy="685.4" r="4.0"/><circle cx="514.5" cy="679.2" r="4.0"/><circle cx="515.0" cy="685.3" r="4.0"/><circle cx="515.9" cy="684.1" r="4.0"/><circle cx="516.7" cy="673.5" r="4.0"/><circle cx="517.9" cy="675.7" r="4.0"/><circle cx="518.6" cy="675.4" r="4.0"/><circle cx="519.7" cy="670.0" r="4.0"/><circle cx="520.7" cy="675.5" r="4.0"/><circle cx="521.7" cy="670.8" r="4.0"/><circle cx="523.0" cy="678.9" r="4.0"/><circle cx="524.4" cy="672.2" r="4.0"/><circle cx="525.7" cy="672.3" r="4.0"/><circle cx="527.1" cy="668.2" r="4.0"/><circle cx="528.6" cy="676.9" r="4.0"/><circle cx="529.7" cy="671.8" r="4.0"/><circle cx="530.9" cy="671.5" r="4.0"/><circle cx="531.4" cy="675.2" r="4.0"/><circle cx="532.2" cy="667.5" r="4.0"/><circle cx="532.9" cy="667.9" r="4.0"/><circle cx="534.5" cy="665.4" r="4.0"/><circle cx="535.1" cy="670.7" r="4.0"/><circle cx="535.9" cy="664.8" r="4.0"/><circle cx="537.2" cy="668.6" r="4.0"/><circle cx="538.5" cy="668.8" r="4.0"/><circle cx="539.1" cy="669.7" r="4.0"/><circle cx="540.7" cy="663.2" r="4.0"/><circle cx="541.4" cy="665.9" r="4.0"/><circle cx="542.7" cy="663.9" r="4.0"/><circle cx="543.4" cy="664.4" r="4.0"/><circle cx="544.1" cy="665.1" r="4.0"/><circle cx="546.0" cy="661.8" r="4.0"/><circle cx="547.5" cy="664.2" r="4.0"/><circle cx="548.3" cy="664.1" r="4.0"/><circle cx="550.4" cy="661.0" r="4.0"/><circle cx="551.6" cy="662.3" r="4.0"/><circle cx="553.1" cy="659.8" r="4.0"/><circle cx="555.4" cy="660.0" r="4.0"/><circle cx="556.5" cy="657.7" r="4.0"/><circle cx="557.7" cy="657.8" r="4.0"/><circle cx="560.1" cy="657.6" r="4.0"/><circle cx="562.5" cy="656.4" r="4.0"/><circle cx="564.8" cy="653.4" r="4.0"/><circle cx="822.7" cy="539.7" r="4.0"/><circle cx="795.3" cy="549.2" r="4.0"/><circle cx="716.5" cy="581.0" r="4.0"/><circle cx="693.1" cy="597.7" r="4.0"/><circle cx="689.0" cy="602.5" r="4.0"/><circle cx="666.4" cy="608.5" r="4.0"/><circle cx="660.4" cy="617.7" r="4.0"/><circle cx="640.0" cy="619.7" r="4.0"/><circle cx="640.0" cy="625.7" r="4.0"/><circle cx="570.9" cy="651.8" r="4.0"/><circle cx="571.7" cy="654.8" r="4.0"/><circle cx="577.0" cy="654.8" r="4.0"/><circle cx="567.1" cy="655.6" r="4.0"/><circle cx="585.4" cy="639.6" r="4.0"/><circle cx="589.2" cy="636.5" r="4.0"/><circle cx="593.0" cy="639.6" r="4.0"/><circle cx="587.7" cy="645.7" r="4.0"/><circle cx="590.0" cy="648.7" r="4.0"/><circle cx="594.6" cy="643.4" r="4.0"/><circle cx="599.1" cy="644.9" r="4.0"/><circle cx="602.2" cy="642.6" r="4.0"/><circle cx="605.2" cy="638.8" r="4.0"/><circle cx="609.1" cy="634.2" r="4.0"/><circle cx="612.9" cy="631.9" r="4.0"/><circle cx="617.4" cy="635.0" r="4.0"/><circle cx="619.7" cy="636.5" r="4.0"/><circle cx="623.5" cy="627.4" r="4.0"/><circle cx="630.4" cy="629.4" r="4.0"/></g><g fill="#f0652a"><circle cx="889.7" cy="68.7" r="4.0"/><circle cx="948.1" cy="67.5" r="4.0"/><circle cx="969.1" cy="53.1" r="4.0"/><circle cx="972.5" cy="96.5" r="4.0"/><circle cx="877.1" cy="113.7" r="4.0"/><circle cx="931.3" cy="115.5" r="4.0"/><circle cx="965.7" cy="120.7" r="4.0"/><circle cx="989.2" cy="127.1" r="4.0"/><circle cx="950.1" cy="7.0" r="4.0"/><circle cx="640.4" cy="116.1" r="4.0"/><circle cx="773.2" cy="109.5" r="4.0"/><circle cx="602.2" cy="108.9" r="4.0"/><circle cx="768.5" cy="145.1" r="4.0"/><circle cx="808.7" cy="148.6" r="4.0"/><circle cx="798.7" cy="180.0" r="4.0"/><circle cx="807.5" cy="174.2" r="4.0"/><circle cx="668.5" cy="173.0" r="4.0"/><circle cx="775.8" cy="206.9" r="4.0"/><circle cx="643.7" cy="216.9" r="4.0"/><circle cx="662.3" cy="231.5" r="4.0"/><circle cx="653.5" cy="238.3" r="4.0"/><circle cx="640.9" cy="244.6" r="4.0"/><circle cx="676.8" cy="245.8" r="4.0"/><circle cx="579.6" cy="245.3" r="4.0"/><circle cx="603.0" cy="252.4" r="4.0"/><circle cx="591.4" cy="262.9" r="4.0"/><circle cx="653.0" cy="264.7" r="4.0"/><circle cx="651.7" cy="281.8" r="4.0"/><circle cx="678.1" cy="288.5" r="4.0"/><circle cx="690.7" cy="286.8" r="4.0"/><circle cx="732.9" cy="269.4" r="4.0"/><circle cx="795.7" cy="276.0" r="4.0"/><circle cx="592.4" cy="297.3" r="4.0"/><circle cx="622.8" cy="294.8" r="4.0"/><circle cx="638.9" cy="298.8" r="4.0"/><circle cx="683.1" cy="311.2" r="4.0"/><circle cx="665.5" cy="317.4" r="4.0"/><circle cx="682.4" cy="321.7" r="4.0"/><circle cx="674.3" cy="323.2" r="4.0"/><circle cx="595.2" cy="317.4" r="4.0"/><circle cx="615.8" cy="316.2" r="4.0"/><circle cx="619.8" cy="322.5" r="4.0"/><circle cx="712.5" cy="324.2" r="4.0"/><circle cx="754.0" cy="309.9" r="4.0"/><circle cx="754.0" cy="324.2" r="4.0"/><circle cx="602.2" cy="328.7" r="4.0"/><circle cx="831.2" cy="142.1" r="4.0"/><circle cx="843.3" cy="148.1" r="4.0"/><circle cx="829.2" cy="169.5" r="4.0"/><circle cx="889.0" cy="172.8" r="4.0"/><circle cx="867.9" cy="183.3" r="4.0"/><circle cx="862.9" cy="209.9" r="4.0"/><circle cx="873.7" cy="247.6" r="4.0"/><circle cx="846.3" cy="246.9" r="4.0"/><circle cx="951.8" cy="238.6" r="4.0"/><circle cx="949.8" cy="315.5" r="4.0"/><circle cx="819.7" cy="329.0" r="4.0"/><circle cx="818.4" cy="335.6" r="4.0"/><circle cx="794.5" cy="337.3" r="4.0"/><circle cx="913.9" cy="359.7" r="4.0"/><circle cx="803.3" cy="418.1" r="4.0"/><circle cx="897.5" cy="418.8" r="4.0"/><circle cx="814.4" cy="437.9" r="4.0"/><circle cx="659.4" cy="341.6" r="4.0"/><circle cx="664.4" cy="360.7" r="4.0"/><circle cx="676.2" cy="375.7" r="4.0"/><circle cx="774.1" cy="336.4" r="4.0"/><circle cx="783.7" cy="333.4" r="4.0"/><circle cx="773.1" cy="364.5" r="4.0"/><circle cx="761.1" cy="376.7" r="4.0"/><circle cx="759.7" cy="394.7" r="4.0"/><circle cx="710.1" cy="394.1" r="4.0"/><circle cx="646.0" cy="399.5" r="4.0"/><circle cx="773.1" cy="425.5" r="4.0"/><circle cx="740.1" cy="428.1" r="4.0"/><circle cx="655.0" cy="428.1" r="4.0"/><circle cx="640.0" cy="425.1" r="4.0"/><circle cx="731.1" cy="441.6" r="4.0"/><circle cx="697.7" cy="460.0" r="4.0"/><circle cx="715.7" cy="467.4" r="4.0"/><circle cx="756.1" cy="473.7" r="4.0"/><circle cx="664.4" cy="476.7" r="4.0"/><circle cx="737.1" cy="487.7" r="4.0"/><circle cx="751.1" cy="491.5" r="4.0"/><circle cx="700.1" cy="495.1" r="4.0"/><circle cx="696.1" cy="507.5" r="4.0"/><circle cx="673.6" cy="514.1" r="4.0"/><circle cx="645.0" cy="518.1" r="4.0"/><circle cx="753.1" cy="517.7" r="4.0"/><circle cx="722.5" cy="540.7" r="4.0"/><circle cx="648.0" cy="491.1" r="4.0"/><circle cx="674.4" cy="551.6" r="4.0"/><circle cx="659.0" cy="551.0" r="4.0"/><circle cx="706.5" cy="557.6" r="4.0"/><circle cx="683.6" cy="576.4" r="4.0"/><circle cx="535.1" cy="421.9" r="4.0"/><circle cx="524.4" cy="435.6" r="4.0"/><circle cx="555.2" cy="438.2" r="4.0"/><circle cx="525.2" cy="447.4" r="4.0"/><circle cx="567.1" cy="454.7" r="4.0"/><circle cx="587.2" cy="436.2" r="4.0"/><circle cx="608.3" cy="413.8" r="4.0"/><circle cx="619.4" cy="424.0" r="4.0"/><circle cx="626.6" cy="419.5" r="4.0"/><circle cx="519.1" cy="461.1" r="4.0"/><circle cx="525.9" cy="467.2" r="4.0"/><circle cx="530.5" cy="470.2" r="4.0"/><circle cx="538.1" cy="465.7" r="4.0"/><circle cx="513.7" cy="474.1" r="4.0"/><circle cx="522.9" cy="475.6" r="4.0"/><circle cx="560.2" cy="481.7" r="4.0"/><circle cx="614.7" cy="452.7" r="4.0"/><circle cx="627.1" cy="448.9" r="4.0"/><circle cx="636.5" cy="456.5" r="4.0"/><circle cx="621.3" cy="474.8" r="4.0"/><circle cx="623.5" cy="479.4" r="4.0"/><circle cx="622.0" cy="483.2" r="4.0"/><circle cx="633.5" cy="477.1" r="4.0"/><circle cx="503.4" cy="493.6" r="4.0"/><circle cx="520.6" cy="497.2" r="4.0"/><circle cx="513.0" cy="502.3" r="4.0"/><circle cx="530.5" cy="506.9" r="4.0"/><circle cx="547.7" cy="502.7" r="4.0"/><circle cx="559.8" cy="500.0" r="4.0"/><circle cx="575.8" cy="502.0" r="4.0"/><circle cx="582.8" cy="496.2" r="4.0"/><circle cx="597.6" cy="495.4" r="4.0"/><circle cx="600.7" cy="501.5" r="4.0"/><circle cx="622.0" cy="501.5" r="4.0"/><circle cx="546.5" cy="410.0" r="4.0"/><circle cx="501.5" cy="515.3" r="4.0"/><circle cx="513.0" cy="515.3" r="4.0"/><circle cx="597.6" cy="512.2" r="4.0"/><circle cx="556.4" cy="519.8" r="4.0"/><circle cx="580.1" cy="519.8" r="4.0"/><circle cx="548.8" cy="525.9" r="4.0"/><circle cx="607.5" cy="535.1" r="4.0"/><circle cx="623.5" cy="536.6" r="4.0"/><circle cx="506.9" cy="544.2" r="4.0"/><circle cx="503.1" cy="550.3" r="4.0"/><circle cx="528.2" cy="550.3" r="4.0"/><circle cx="538.1" cy="547.3" r="4.0"/><circle cx="619.7" cy="545.8" r="4.0"/><circle cx="632.4" cy="551.9" r="4.0"/><circle cx="594.6" cy="558.0" r="4.0"/><circle cx="599.1" cy="558.7" r="4.0"/><circle cx="596.9" cy="563.3" r="4.0"/><circle cx="616.7" cy="559.5" r="4.0"/><circle cx="618.2" cy="567.9" r="4.0"/><circle cx="509.2" cy="565.6" r="4.0"/><circle cx="519.1" cy="567.1" r="4.0"/><circle cx="508.4" cy="579.3" r="4.0"/><circle cx="516.0" cy="587.7" r="4.0"/><circle cx="559.5" cy="579.3" r="4.0"/><circle cx="609.1" cy="582.4" r="4.0"/><circle cx="621.7" cy="594.3" r="4.0"/><circle cx="547.3" cy="541.9" r="4.0"/><circle cx="377.7" cy="512.2" r="4.0"/><circle cx="436.9" cy="509.5" r="4.0"/><circle cx="473.8" cy="503.8" r="4.0"/><circle cx="478.3" cy="514.8" r="4.0"/><circle cx="454.4" cy="517.5" r="4.0"/><circle cx="471.5" cy="522.6" r="4.0"/><circle cx="450.9" cy="531.7" r="4.0"/><circle cx="437.6" cy="538.1" r="4.0"/><circle cx="452.4" cy="542.2" r="4.0"/><circle cx="380.1" cy="547.7" r="4.0"/><circle cx="342.3" cy="559.8" r="4.0"/><circle cx="427.7" cy="552.9" r="4.0"/><circle cx="436.1" cy="557.7" r="4.0"/><circle cx="454.4" cy="554.9" r="4.0"/><circle cx="475.4" cy="543.2" r="4.0"/><circle cx="492.5" cy="541.9" r="4.0"/><circle cx="474.2" cy="555.7" r="4.0"/><circle cx="493.3" cy="562.5" r="4.0"/><circle cx="486.4" cy="567.1" r="4.0"/><circle cx="482.6" cy="571.7" r="4.0"/><circle cx="480.3" cy="576.3" r="4.0"/><circle cx="407.1" cy="566.7" r="4.0"/><circle cx="417.8" cy="565.9" r="4.0"/><circle cx="391.4" cy="580.8" r="4.0"/><circle cx="343.8" cy="583.1" r="4.0"/><circle cx="387.0" cy="588.9" r="4.0"/><circle cx="374.3" cy="594.9" r="4.0"/><circle cx="472.4" cy="585.0" r="4.0"/><circle cx="452.9" cy="591.1" r="4.0"/><circle cx="451.3" cy="598.4" r="4.0"/><circle cx="365.2" cy="599.1" r="4.0"/><circle cx="483.1" cy="611.0" r="4.0"/><circle cx="436.4" cy="613.2" r="4.0"/><circle cx="410.9" cy="615.9" r="4.0"/><circle cx="421.6" cy="613.6" r="4.0"/><circle cx="434.6" cy="630.4" r="4.0"/><circle cx="453.2" cy="631.2" r="4.0"/><circle cx="407.1" cy="635.8" r="4.0"/><circle cx="355.7" cy="634.5" r="4.0"/><circle cx="396.4" cy="645.2" r="4.0"/><circle cx="429.7" cy="652.5" r="4.0"/><circle cx="475.0" cy="651.8" r="4.0"/><circle cx="495.9" cy="646.4" r="4.0"/><circle cx="389.1" cy="663.2" r="4.0"/><circle cx="354.9" cy="684.9" r="4.0"/><circle cx="466.6" cy="622.8" r="4.0"/><circle cx="389.6" cy="615.2" r="4.0"/><circle cx="503.1" cy="626.3" r="4.0"/><circle cx="514.9" cy="639.6" r="4.0"/><circle cx="514.9" cy="646.4" r="4.0"/><circle cx="455.3" cy="699.1" r="4.0"/><circle cx="264.2" cy="609.1" r="4.0"/><circle cx="309.6" cy="603.9" r="4.0"/><circle cx="310.9" cy="645.7" r="4.0"/><circle cx="505.6" cy="292.0" r="4.0"/><circle cx="548.9" cy="292.0" r="4.0"/><circle cx="521.4" cy="316.8" r="4.0"/><circle cx="513.5" cy="323.5" r="4.0"/><circle cx="509.0" cy="330.2" r="4.0"/><circle cx="531.6" cy="332.1" r="4.0"/><circle cx="556.4" cy="327.9" r="4.0"/><circle cx="565.5" cy="335.4" r="4.0"/><circle cx="576.9" cy="343.3" r="4.0"/><circle cx="540.3" cy="345.0" r="4.0"/><circle cx="473.8" cy="344.0" r="4.0"/><circle cx="507.3" cy="350.7" r="4.0"/><circle cx="404.9" cy="365.6" r="4.0"/><circle cx="454.0" cy="374.3" r="4.0"/><circle cx="561.1" cy="365.6" r="4.0"/><circle cx="576.2" cy="375.0" r="4.0"/><circle cx="587.9" cy="373.0" r="4.0"/><circle cx="553.2" cy="397.3" r="4.0"/><circle cx="525.4" cy="405.3" r="4.0"/><circle cx="576.9" cy="404.8" r="4.0"/><circle cx="526.4" cy="277.5" r="4.0"/><circle cx="471.0" cy="432.2" r="4.0"/><circle cx="479.9" cy="435.2" r="4.0"/><circle cx="469.8" cy="452.8" r="4.0"/><circle cx="459.8" cy="461.5" r="4.0"/><circle cx="483.1" cy="459.0" r="4.0"/><circle cx="375.1" cy="461.2" r="4.0"/><circle cx="428.9" cy="477.1" r="4.0"/><circle cx="489.1" cy="494.4" r="4.0"/><circle cx="318.3" cy="524.7" r="4.0"/><circle cx="306.8" cy="536.2" r="4.0"/><circle cx="598.7" cy="369.6" r="4.0"/><circle cx="624.7" cy="365.0" r="4.0"/><circle cx="625.4" cy="371.9" r="4.0"/><circle cx="614.0" cy="371.9" r="4.0"/><circle cx="613.7" cy="387.9" r="4.0"/></g><g stroke="#000" stroke-width="4.0" fill="none"><path d="M836.0 47.0H888.1M863.0 3.0V79.1"/><path d="M865.0 55.7H889.1M877.1 45.0V69.1"/><path d="M888.1 55.7H932.1M908.1 34.4V82.5"/><path d="M904.1 57.1H947.1M924.1 42.4V82.5"/><path d="M910.1 70.1H942.5M925.1 60.1V80.1"/><path d="M958.1 30.4H976.5M967.7 21.6V40.0"/><path d="M956.1 48.6H988.6M973.1 38.4V59.7"/><path d="M1005.2 58.1H1020.2M1015.2 50.0V68.1"/><path d="M998.2 74.5H1020.2M1014.2 60.1V98.1"/><path d="M968.5 90.5H999.2M985.2 79.1V102.1"/><path d="M944.5 96.1H962.1M953.1 90.1V102.1"/><path d="M993.2 99.1H1018.2M1004.2 93.1V107.1"/><path d="M853.0 107.1H869.0M861.4 85.1V127.1"/><path d="M717.1 86.1H762.1M740.7 65.1V107.1"/><path d="M781.9 117.7H796.2M790.4 93.8V135.3"/><path d="M639.1 144.1H685.1M663.0 130.3V158.4"/><path d="M658.0 170.5H690.7M674.8 154.6V187.3"/><path d="M794.9 166.7H811.3M802.5 150.4V180.5"/><path d="M798.7 168.4H815.0M806.2 155.4V183.0"/><path d="M626.6 268.4H660.5M643.7 247.8V273.5"/><path d="M639.9 274.7H679.3M657.5 259.6V283.5"/><path d="M663.5 258.9H708.2M685.6 242.1V274.7"/><path d="M683.1 264.7H723.8M702.7 252.1V277.7"/><path d="M663.5 286.0H687.6M675.1 276.0V296.6"/><path d="M661.8 314.9H691.2M677.3 301.9V327.5"/><path d="M759.2 294.8H809.2M786.1 271.5V319.2"/><path d="M817.1 207.4H854.8M836.7 179.0V229.8"/><path d="M836.0 243.9H863.6M849.3 229.3V257.7"/><path d="M925.2 202.2H977.9M953.1 190.9V215.5"/><path d="M907.1 269.2H936.0M922.2 255.7V283.8"/><path d="M866.1 329.8H903.8M880.7 278.8V359.9"/><path d="M848.0 384.7H866.9M857.3 367.6V404.0"/><path d="M829.2 429.4H854.3M841.3 412.8V441.0"/><path d="M734.5 361.7H770.1M753.1 342.0V380.1"/><path d="M752.1 342.4H783.1M768.1 338.4V348.0"/><path d="M627.2 405.5H676.0M653.4 389.7V420.1"/><path d="M640.0 419.7H692.0M666.0 412.5V428.1"/><path d="M753.7 421.1H772.5M763.5 407.1V436.1"/><path d="M717.7 431.6H750.1M734.5 418.0V447.0"/><path d="M698.5 512.5H726.5M713.1 496.1V530.5"/><path d="M739.7 561.0H779.1M759.7 553.6V569.0"/><path d="M628.0 546.4H670.0M650.0 535.0V557.6"/><path d="M511.9 456.5H559.5M537.4 448.1V464.9"/><path d="M511.9 478.9H564.1M539.4 471.8V485.8"/><path d="M577.8 489.3H605.2M592.0 477.9V503.0"/><path d="M591.5 489.6H613.6M601.9 480.9V499.2"/><path d="M547.3 429.8H585.4M570.2 420.7V437.5"/><path d="M570.2 431.4H592.3M580.1 425.3V440.5"/><path d="M569.4 421.4H619.0M595.3 405.4V437.5"/><path d="M629.2 416.9H665.8M647.5 412.3V420.7"/><path d="M627.6 475.9H655.1M641.4 459.1V489.3"/><path d="M622.3 489.0H654.3M641.4 477.1V509.1"/><path d="M497.7 520.6H532.0M516.0 495.4V545.8"/><path d="M500.0 556.4H544.2M523.2 545.8V570.2"/><path d="M551.9 514.5H586.9M569.4 506.1V524.4"/><path d="M544.2 528.2H585.4M569.4 518.3V539.7"/><path d="M545.8 532.8H595.3M571.7 524.4V542.7"/><path d="M535.1 536.6H576.3M561.0 530.5V544.2"/><path d="M528.2 545.0H579.3M555.7 532.0V553.4"/><path d="M593.0 541.2H631.2M614.1 524.4V561.0"/><path d="M561.0 579.3H585.4M576.3 564.1V597.6"/><path d="M567.1 582.4H596.9M582.8 568.6V597.6"/><path d="M364.4 617.8H419.3M385.8 612.9V622.8"/><path d="M401.0 617.8H446.8M426.2 597.6V648.7"/><path d="M405.6 622.0H445.2M428.2 599.2V648.0"/><path d="M431.5 619.3H482.6M463.2 595.3V646.4"/><path d="M517.1 606.5H567.9M544.2 596.9V617.5"/><path d="M529.0 637.6H576.7M554.1 621.3V652.5"/><path d="M529.0 651.8H545.0M536.6 646.4V657.1"/><path d="M488.6 665.0H520.6M505.3 660.2V670.1"/><path d="M541.9 677.7H570.2M556.1 667.8V689.1"/><path d="M387.6 685.0H439.1M412.4 658.9V714.7"/><path d="M419.3 694.9H451.5M436.7 687.4V704.8"/><path d="M424.3 704.3H446.6M436.7 694.9V714.7"/><path d="M429.2 709.7H444.1M437.2 702.3V720.9"/><path d="M454.5 706.0H482.5M468.4 692.4V722.6"/><path d="M472.6 684.5H520.9M498.6 662.7V709.2"/><path d="M501.1 701.1H550.7M524.7 688.7V713.5"/><path d="M509.8 710.2H549.4M530.4 688.7V732.8"/><path d="M389.6 733.3H401.5M395.8 720.9V745.7"/><path d="M411.4 730.8H429.7M421.0 719.7V742.0"/><path d="M378.4 782.9H430.5M405.7 766.7V797.0"/><path d="M335.0 791.5H373.5M353.6 780.4V803.2"/><path d="M511.0 404.8H519.0M515.0 395.3V413.4"/><path d="M468.9 216.8H516.5M494.2 201.0V232.4"/><path d="M583.9 365.0H604.8M594.9 348.2V384.1"/><path d="M604.1 368.0H632.0M617.8 347.5V377.2"/><path d="M578.1 384.1H626.2M603.3 364.2V402.4"/><path d="M564.5 532.9H595.0M593.1 531.0V534.8"/><path d="M555.0 537.7H576.0M569.3 526.2V547.2"/><path d="M932.0 4.0L932.0 17.0"/></g><g fill="#000"><circle cx="863.0" cy="47.0" r="3.5"/><circle cx="877.1" cy="55.7" r="3.5"/><circle cx="908.1" cy="55.7" r="3.5"/><circle cx="924.1" cy="57.1" r="3.5"/><circle cx="925.1" cy="70.1" r="3.5"/><circle cx="967.7" cy="30.4" r="3.5"/><circle cx="973.1" cy="48.6" r="3.5"/><circle cx="1015.2" cy="58.1" r="3.5"/><circle cx="1014.2" cy="74.5" r="3.5"/><circle cx="985.2" cy="90.5" r="3.5"/><circle cx="953.1" cy="96.1" r="3.5"/><circle cx="1004.2" cy="99.1" r="3.5"/><circle cx="861.4" cy="107.1" r="3.5"/><circle cx="740.7" cy="86.1" r="3.5"/><circle cx="790.4" cy="117.7" r="3.5"/><circle cx="663.0" cy="144.1" r="3.5"/><circle cx="674.8" cy="170.5" r="3.5"/><circle cx="802.5" cy="166.7" r="3.5"/><circle cx="806.2" cy="168.4" r="3.5"/><circle cx="643.7" cy="268.4" r="3.5"/><circle cx="657.5" cy="274.7" r="3.5"/><circle cx="685.6" cy="258.9" r="3.5"/><circle cx="702.7" cy="264.7" r="3.5"/><circle cx="675.1" cy="286.0" r="3.5"/><circle cx="677.3" cy="314.9" r="3.5"/><circle cx="786.1" cy="294.8" r="3.5"/><circle cx="836.7" cy="207.4" r="3.5"/><circle cx="849.3" cy="243.9" r="3.5"/><circle cx="953.1" cy="202.2" r="3.5"/><circle cx="922.2" cy="269.2" r="3.5"/><circle cx="880.7" cy="329.8" r="3.5"/><circle cx="857.3" cy="384.7" r="3.5"/><circle cx="841.3" cy="429.4" r="3.5"/><circle cx="753.1" cy="361.7" r="3.5"/><circle cx="768.1" cy="342.4" r="3.5"/><circle cx="653.4" cy="405.5" r="3.5"/><circle cx="666.0" cy="419.7" r="3.5"/><circle cx="763.5" cy="421.1" r="3.5"/><circle cx="734.5" cy="431.6" r="3.5"/><circle cx="713.1" cy="512.5" r="3.5"/><circle cx="759.7" cy="561.0" r="3.5"/><circle cx="650.0" cy="546.4" r="3.5"/><circle cx="537.4" cy="456.5" r="3.5"/><circle cx="539.4" cy="478.9" r="3.5"/><circle cx="592.0" cy="489.3" r="3.5"/><circle cx="601.9" cy="489.6" r="3.5"/><circle cx="570.2" cy="429.8" r="3.5"/><circle cx="580.1" cy="431.4" r="3.5"/><circle cx="595.3" cy="421.4" r="3.5"/><circle cx="647.5" cy="416.9" r="3.5"/><circle cx="641.4" cy="475.9" r="3.5"/><circle cx="641.4" cy="489.0" r="3.5"/><circle cx="516.0" cy="520.6" r="3.5"/><circle cx="523.2" cy="556.4" r="3.5"/><circle cx="569.4" cy="514.5" r="3.5"/><circle cx="569.4" cy="528.2" r="3.5"/><circle cx="571.7" cy="532.8" r="3.5"/><circle cx="561.0" cy="536.6" r="3.5"/><circle cx="555.7" cy="545.0" r="3.5"/><circle cx="614.1" cy="541.2" r="3.5"/><circle cx="576.3" cy="579.3" r="3.5"/><circle cx="582.8" cy="582.4" r="3.5"/><circle cx="385.8" cy="617.8" r="3.5"/><circle cx="426.2" cy="617.8" r="3.5"/><circle cx="428.2" cy="622.0" r="3.5"/><circle cx="463.2" cy="619.3" r="3.5"/><circle cx="544.2" cy="606.5" r="3.5"/><circle cx="554.1" cy="637.6" r="3.5"/><circle cx="536.6" cy="651.8" r="3.5"/><circle cx="505.3" cy="665.0" r="3.5"/><circle cx="556.1" cy="677.7" r="3.5"/><circle cx="412.4" cy="685.0" r="3.5"/><circle cx="436.7" cy="694.9" r="3.5"/><circle cx="436.7" cy="704.3" r="3.5"/><circle cx="437.2" cy="709.7" r="3.5"/><circle cx="468.4" cy="706.0" r="3.5"/><circle cx="498.6" cy="684.5" r="3.5"/><circle cx="524.7" cy="701.1" r="3.5"/><circle cx="530.4" cy="710.2" r="3.5"/><circle cx="395.8" cy="733.3" r="3.5"/><circle cx="421.0" cy="730.8" r="3.5"/><circle cx="405.7" cy="782.9" r="3.5"/><circle cx="353.6" cy="791.5" r="3.5"/><circle cx="515.0" cy="404.8" r="3.5"/><circle cx="494.2" cy="216.8" r="3.5"/><circle cx="594.9" cy="365.0" r="3.5"/><circle cx="617.8" cy="368.0" r="3.5"/><circle cx="603.3" cy="384.1" r="3.5"/><circle cx="593.1" cy="532.9" r="3.5"/><circle cx="569.3" cy="537.7" r="3.5"/></g></g><g stroke="#000" stroke-width="4.0" fill="none"><path d="M271.1 882.1V869.8M271.1 3.9V16.2"/><path d="M348.9 882.1V869.8M348.9 3.9V16.2"/><path d="M404.1 882.1V869.8M404.1 3.9V16.2"/><path d="M446.9 882.1V869.8M446.9 3.9V16.2"/><path d="M481.9 882.1V869.8M481.9 3.9V16.2"/><path d="M511.5 882.1V869.8M511.5 3.9V16.2"/><path d="M537.1 882.1V869.8M537.1 3.9V16.2"/><path d="M559.7 882.1V869.8M559.7 3.9V16.2"/><path d="M712.9 882.1V869.8M712.9 3.9V16.2"/><path d="M790.7 882.1V869.8M790.7 3.9V16.2"/><path d="M845.9 882.1V869.8M845.9 3.9V16.2"/><path d="M888.7 882.1V869.8M888.7 3.9V16.2"/><path d="M923.7 882.1V869.8M923.7 3.9V16.2"/><path d="M953.3 882.1V869.8M953.3 3.9V16.2"/><path d="M978.9 882.1V869.8M978.9 3.9V16.2"/><path d="M1001.5 882.1V869.8M1001.5 3.9V16.2"/><path d="M579.9 882.1V856.9M579.9 3.9V29.1"/><path d="M138.1 628.2H150.4M1021.7 628.2H1009.4"/><path d="M138.1 479.7H150.4M1021.7 479.7H1009.4"/><path d="M138.1 374.3H150.4M1021.7 374.3H1009.4"/><path d="M138.1 292.6H150.4M1021.7 292.6H1009.4"/><path d="M138.1 225.8H150.4M1021.7 225.8H1009.4"/><path d="M138.1 169.3H150.4M1021.7 169.3H1009.4"/><path d="M138.1 120.4H150.4M1021.7 120.4H1009.4"/><path d="M138.1 77.3H150.4M1021.7 77.3H1009.4"/><path d="M138.1 38.7H163.3M1021.7 38.7H996.5"/></g><rect x="138.1" y="3.9" width="883.6" height="878.2" fill="none" stroke="#000" stroke-width="4.1"/><text x="58.80" y="894.90" font-family="Liberation Sans, sans-serif" font-size="41.00" fill="#111" stroke="#fff" stroke-width="0.70" textLength="42.36" lengthAdjust="spacingAndGlyphs">10</text><text x="101.00" y="880.70" font-family="Liberation Sans, sans-serif" font-size="29.00" fill="#111" stroke="#fff" stroke-width="0.52" textLength="17.73" lengthAdjust="spacingAndGlyphs">0</text><text x="58.80" y="50.80" font-family="Liberation Sans, sans-serif" font-size="41.00" fill="#111" stroke="#fff" stroke-width="0.70" textLength="42.36" lengthAdjust="spacingAndGlyphs">10</text><text x="103.00" y="36.60" font-family="Liberation Sans, sans-serif" font-size="29.00" fill="#111" stroke="#fff" stroke-width="0.52" textLength="12.36" lengthAdjust="spacingAndGlyphs">1</text><text x="105.20" y="926.50" font-family="Liberation Sans, sans-serif" font-size="41.00" fill="#111" stroke="#fff" stroke-width="0.70" textLength="42.02" lengthAdjust="spacingAndGlyphs">10</text><text x="147.10" y="912.00" font-family="Liberation Sans, sans-serif" font-size="29.00" fill="#111" stroke="#fff" stroke-width="0.52" textLength="17.55" lengthAdjust="spacingAndGlyphs">0</text><text x="547.40" y="926.50" font-family="Liberation Sans, sans-serif" font-size="41.00" fill="#111" stroke="#fff" stroke-width="0.70" textLength="42.02" lengthAdjust="spacingAndGlyphs">10</text><text x="591.00" y="912.00" font-family="Liberation Sans, sans-serif" font-size="29.00" fill="#111" stroke="#fff" stroke-width="0.52" textLength="12.82" lengthAdjust="spacingAndGlyphs">1</text><text x="989.50" y="926.50" font-family="Liberation Sans, sans-serif" font-size="41.00" fill="#111" stroke="#fff" stroke-width="0.70" textLength="42.02" lengthAdjust="spacingAndGlyphs">10</text><text x="1031.40" y="912.00" font-family="Liberation Sans, sans-serif" font-size="29.00" fill="#111" stroke="#fff" stroke-width="0.52" textLength="17.55" lengthAdjust="spacingAndGlyphs">2</text><text x="238.40" y="72.80" font-family="Liberation Sans, sans-serif" font-size="42.80" fill="#111" stroke="#fff" stroke-width="0.70" textLength="109.86" lengthAdjust="spacingAndGlyphs">Water</text><text x="232.90" y="133.60" font-family="Liberation Sans, sans-serif" font-size="42.80" fill="#111" stroke="#fff" stroke-width="0.70" textLength="90.82" lengthAdjust="spacingAndGlyphs">Rock</text><text x="232.90" y="194.20" font-family="Liberation Sans, sans-serif" font-size="42.80" fill="#111" stroke="#fff" stroke-width="0.70" textLength="103.05" lengthAdjust="spacingAndGlyphs">H/He</text><text x="236.80" y="253.70" font-family="Liberation Sans, sans-serif" font-size="42.80" fill="#111" stroke="#fff" stroke-width="0.70" textLength="164.98" lengthAdjust="spacingAndGlyphs">Observed</text><text x="415.80" y="253.70" font-family="Liberation Sans, sans-serif" font-size="42.80" fill="#111" stroke="#fff" stroke-width="0.70" textLength="131.98" lengthAdjust="spacingAndGlyphs">Planets</text><text x="480.40" y="982.00" font-family="Liberation Sans, sans-serif" font-size="42.30" fill="#111" stroke="#fff" stroke-width="0.70" textLength="90.78" lengthAdjust="spacingAndGlyphs">Mass</text><text x="594.60" y="982.00" font-family="Liberation Sans, sans-serif" font-size="42.30" fill="#111" stroke="#fff" stroke-width="0.70" textLength="39.77" lengthAdjust="spacingAndGlyphs">M</text><text transform="translate(36.50,552.30) rotate(-90)" font-family="Liberation Sans, sans-serif" font-size="42.30" fill="#111" stroke="#fff" stroke-width="0.70" textLength="117.45" lengthAdjust="spacingAndGlyphs">Radius</text><text transform="translate(36.50,408.80) rotate(-90)" font-family="Liberation Sans, sans-serif" font-size="42.30" fill="#111" stroke="#fff" stroke-width="0.70" textLength="29.54" lengthAdjust="spacingAndGlyphs">R</text><g stroke="#111" stroke-width="1.5" fill="none"><circle cx="645" cy="980.7" r="9.8"/><path d="M635.2 980.7H654.8M645 970.9V990.5"/><circle cx="33.8" cy="368" r="9.8"/><path d="M24 368H43.6M33.8 358.2V377.8"/></g><g stroke="#111" stroke-width="2.5" fill="none"><path d="M597.4 952H590V990.3H597.4M659.3 952H665.6V990.3H659.3"/><path d="M5.6 408.4V414.3H43.3V408.4M5.6 354.1V348.2H43.3V354.1"/></g><circle cx="206.6" cy="62" r="3.9" fill="#115db3"/><circle cx="206.6" cy="122.2" r="3.9" fill="#346a2c"/><circle cx="206.5" cy="183.8" r="3.9" fill="#f0652a"/><path d="M185.6 240.4H227.6M206.4 219.9V260.8" stroke="#000" stroke-width="4" fill="none"/><circle cx="206.4" cy="240.4" r="3.5"/><path d="M468.9 216.8H516.5M494.2 201.0V232.4" stroke="#000" stroke-width="4" fill="none"/><circle cx="494.2" cy="216.8" r="3.5"/></svg></body></html>
